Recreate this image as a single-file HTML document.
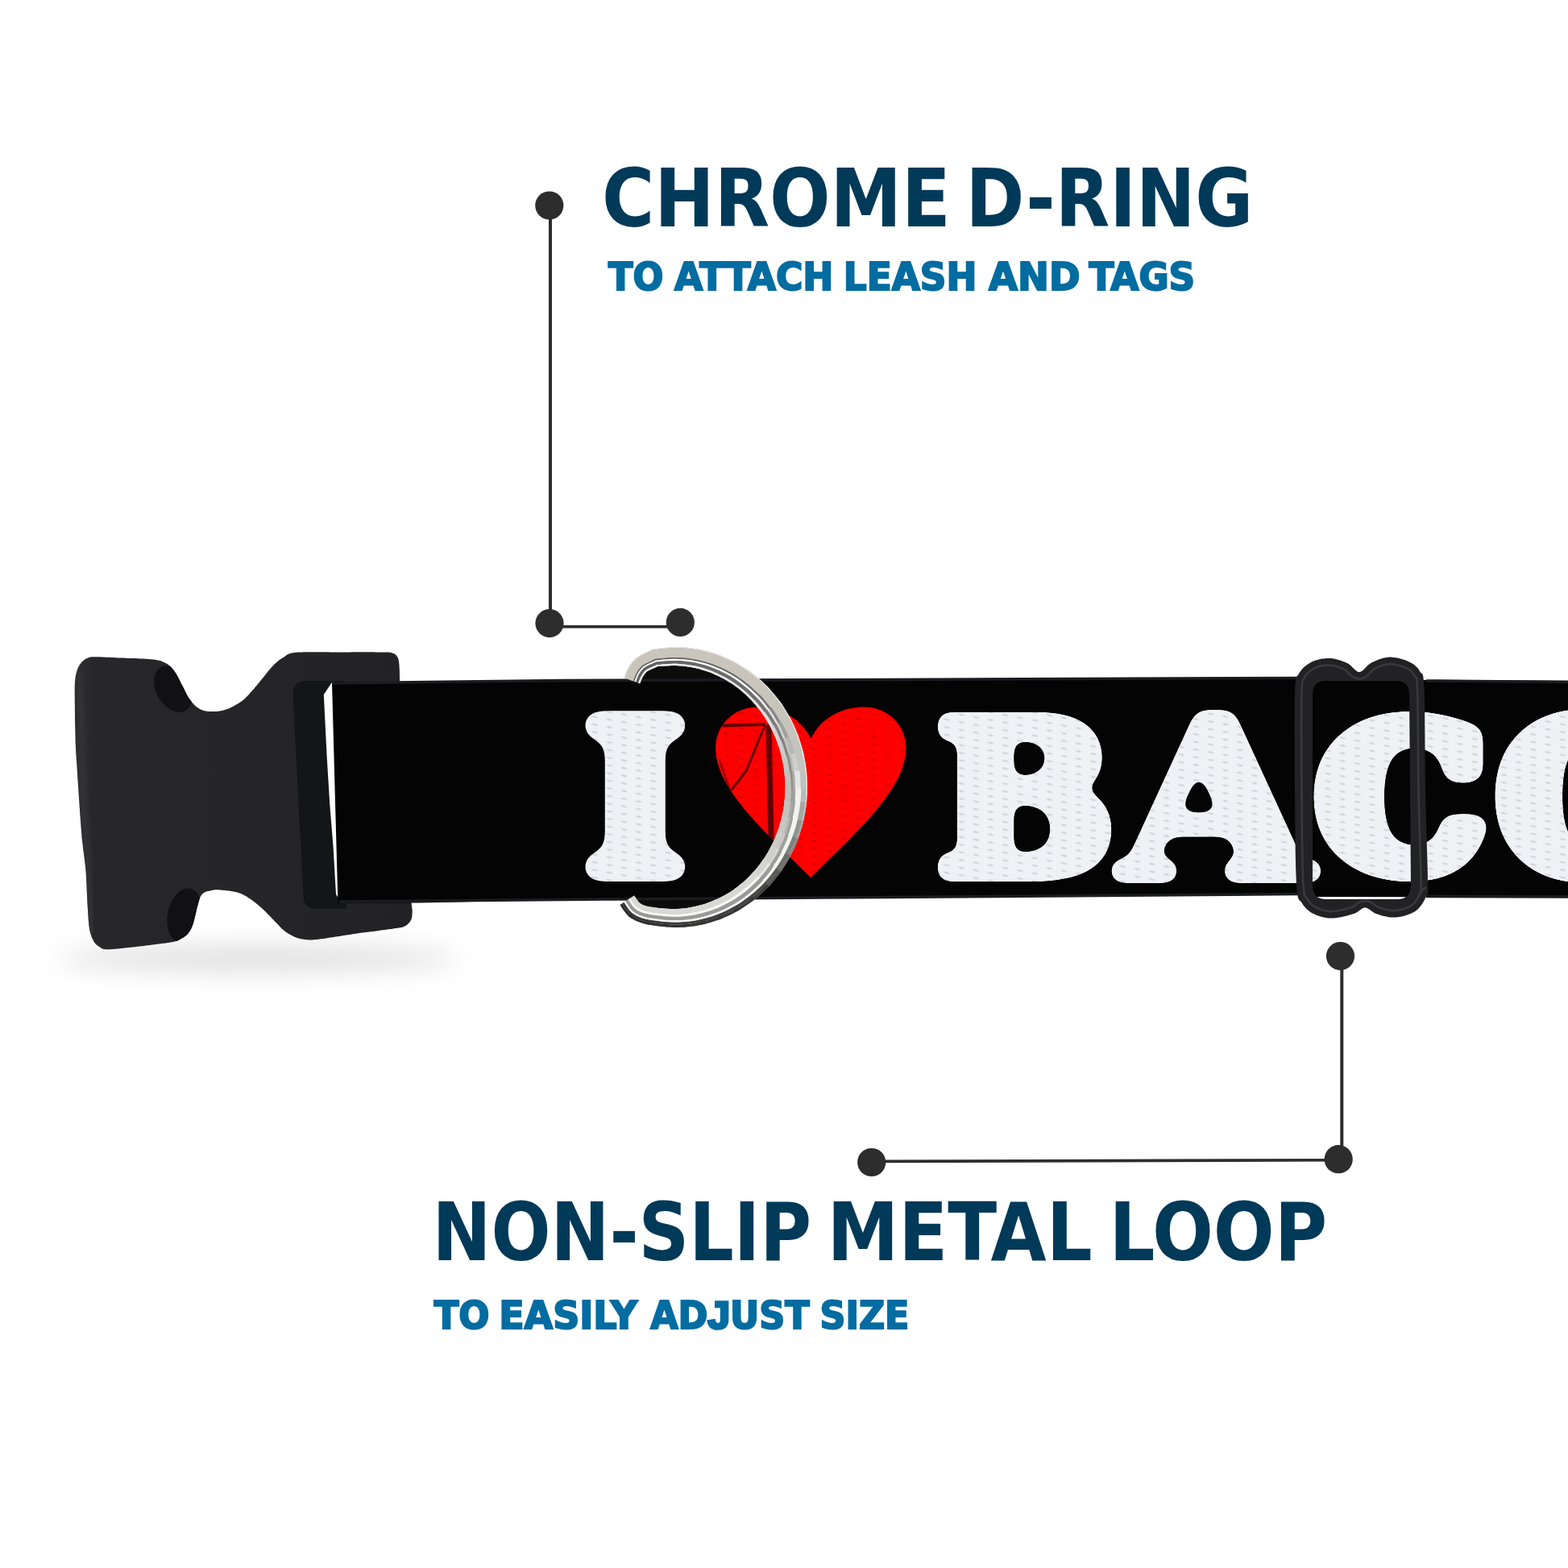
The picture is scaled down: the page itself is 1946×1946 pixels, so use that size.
<!DOCTYPE html>
<html lang="en">
<head>
<meta charset="utf-8">
<title>Dog Collar Features</title>
<style>
html,body{margin:0;padding:0;background:#fff;}
body{width:1946px;height:1946px;overflow:hidden;position:relative;}
svg{display:block;position:absolute;left:0;top:0;}
.h{font-family:"DejaVu Sans Condensed","Liberation Sans",sans-serif;font-weight:700;fill:#013958;}
.s{font-family:"DejaVu Sans Condensed","Liberation Sans",sans-serif;font-weight:700;fill:#036ca1;stroke:#036ca1;stroke-width:2;}
.j{font-family:"Liberation Sans",sans-serif;stroke-width:3.4;}
.cb{font-weight:700;font-size:200px;fill:#eff1f5;stroke:#eff1f5;stroke-linejoin:round;stroke-linecap:round;paint-order:stroke fill;}
.ls{font-family:"Liberation Serif",serif;}
.ds{font-family:"DejaVu Serif","Liberation Serif",serif;}
.dn{font-family:"DejaVu Sans","Liberation Sans",sans-serif;}
</style>
</head>
<body>
<svg xmlns="http://www.w3.org/2000/svg" width="1946" height="1946" viewBox="0 0 1946 1946">
<defs>
  <linearGradient id="gBuckle" x1="0" y1="0" x2="1" y2="0">
    <stop offset="0" stop-color="#2f2f31"/>
    <stop offset="0.06" stop-color="#272729"/>
    <stop offset="0.6" stop-color="#252527"/>
    <stop offset="1" stop-color="#222224"/>
  </linearGradient>
  <filter id="fShadow" x="-30%" y="-100%" width="160%" height="300%">
    <feGaussianBlur stdDeviation="16"/>
  </filter>
  <filter id="fSoft" x="-10%" y="-10%" width="120%" height="120%">
    <feGaussianBlur stdDeviation="3"/>
  </filter>
  <clipPath id="clipStrap"><polygon points="412,847 700,843.5 1100,842.5 1620,840.5 1620,843 1946,844.8 1946,1113.6 1620,1113 1620,1110.5 1100,1114 750,1115.5 520,1120.5 419.4,1121"/></clipPath>
  <radialGradient id="gDash" cx="0.5" cy="0.5" r="0.5">
    <stop offset="0" stop-color="#d6d6d6"/>
    <stop offset="0.55" stop-color="#e6e6e6"/>
    <stop offset="1" stop-color="#ffffff"/>
  </radialGradient>
  <pattern id="weave" width="18.2" height="9.5" patternUnits="userSpaceOnUse" patternTransform="translate(1184,890) skewY(10.3)">
    <rect width="18.2" height="9.5" fill="#ffffff"/>
    <ellipse cx="9.1" cy="4.75" rx="5" ry="1.7" fill="url(#gDash)"/>
  </pattern>
</defs>
<rect width="1946" height="1946" fill="#ffffff"/>
<g id="callout1" fill="#2d2d2d">
  <rect x="681" y="255" width="4" height="520"/>
  <rect x="682" y="776" width="162" height="3.6"/>
  <circle cx="681.8" cy="255" r="17.6"/>
  <circle cx="682" cy="773.6" r="17.6"/>
  <circle cx="844.3" cy="772.4" r="17.6"/>
</g>
<g id="callout2" fill="#2d2d2d">
  <rect x="1663.3" y="1187" width="4" height="252"/>
  <polygon points="1082,1439.6 1661,1437.9 1661,1441.5 1082,1443.2"/>
  <circle cx="1663.5" cy="1186.6" r="17.6"/>
  <circle cx="1661.2" cy="1438.7" r="17.6"/>
  <circle cx="1081.7" cy="1442.5" r="17.6"/>
</g>
<g id="labels">
<text class="h" y="280.9" font-size="99.4"><tspan x="747.1" textLength="432.7" lengthAdjust="spacingAndGlyphs">CHROME</tspan> <tspan x="1198.5" textLength="356.9" lengthAdjust="spacingAndGlyphs">D-RING</tspan></text>
<text class="s" y="359.7" font-size="48.6"><tspan x="755.0" textLength="68.3" lengthAdjust="spacingAndGlyphs">TO</tspan> <tspan x="837.0" textLength="197.4" lengthAdjust="spacingAndGlyphs">ATTACH</tspan> <tspan x="1046.8" textLength="165.6" lengthAdjust="spacingAndGlyphs">LEASH</tspan> <tspan x="1227.1" textLength="113.4" lengthAdjust="spacingAndGlyphs">AND</tspan> <tspan x="1351.4" textLength="131.8" lengthAdjust="spacingAndGlyphs">TAGS</tspan></text>
<text class="h" y="1564.4" font-size="99.4"><tspan x="536.6" textLength="470.5" lengthAdjust="spacingAndGlyphs">NON-SLIP</tspan> <tspan x="1026.4" textLength="329.3" lengthAdjust="spacingAndGlyphs">METAL</tspan> <tspan x="1376.6" textLength="270.6" lengthAdjust="spacingAndGlyphs">LOOP</tspan></text>
<text class="s" y="1648.9" font-size="48.6"><tspan x="538.7" textLength="68.9" lengthAdjust="spacingAndGlyphs">TO</tspan> <tspan x="619.2" textLength="171.8" lengthAdjust="spacingAndGlyphs">EASILY</tspan> <tspan x="807.2" textLength="197.3" lengthAdjust="spacingAndGlyphs">AD<tspan class="j">J</tspan>UST</tspan> <tspan x="1017.5" textLength="110.9" lengthAdjust="spacingAndGlyphs">SIZE</tspan></text>
</g>
<g id="collar">
<ellipse cx="320" cy="1190" rx="250" ry="16" fill="#000" opacity="0.13" filter="url(#fShadow)"/>
<g id="buckle">
<clipPath id="clipBuckle"><path d="M92.8,870.0 L92.8,867.2 L92.7,864.7 L92.7,862.4 L92.7,860.3 L92.7,858.4 L92.7,856.7 L92.7,855.1 L92.7,853.6 L92.7,852.2 L92.8,850.8 L92.8,849.4 L92.9,848.0 L93.0,846.6 L93.1,845.4 L93.2,844.2 L93.3,843.2 L93.4,842.2 L93.5,841.2 L93.6,840.3 L93.8,839.4 L93.9,838.6 L94.1,837.7 L94.3,836.9 L94.5,836.0 L94.7,835.1 L95.0,834.2 L95.2,833.4 L95.5,832.5 L95.7,831.7 L96.0,830.9 L96.3,830.1 L96.6,829.4 L96.9,828.6 L97.3,827.9 L97.6,827.2 L98.0,826.5 L98.4,825.8 L98.8,825.2 L99.2,824.6 L99.6,823.9 L100.1,823.4 L100.6,822.8 L101.0,822.2 L101.5,821.7 L102.0,821.2 L102.5,820.7 L103.0,820.2 L103.5,819.8 L104.0,819.4 L104.5,819.0 L105.0,818.6 L105.5,818.3 L106.1,817.9 L106.6,817.6 L107.1,817.4 L107.7,817.1 L108.2,816.8 L108.8,816.6 L109.4,816.4 L110.0,816.2 L110.5,816.0 L111.0,815.9 L111.3,815.7 L111.7,815.6 L112.0,815.5 L112.4,815.4 L112.9,815.3 L113.5,815.3 L114.3,815.2 L115.3,815.2 L116.5,815.2 L118.0,815.2 L119.8,815.2 L121.9,815.3 L124.1,815.3 L126.6,815.4 L129.2,815.5 L132.0,815.7 L134.9,815.8 L137.9,815.9 L140.9,816.1 L143.9,816.2 L147.0,816.4 L150.0,816.5 L153.1,816.6 L156.5,816.8 L160.0,816.9 L163.6,817.0 L167.3,817.1 L171.0,817.3 L174.6,817.4 L178.1,817.6 L181.4,817.8 L184.6,818.0 L187.5,818.2 L190.0,818.5 L192.2,818.8 L194.2,819.1 L196.0,819.4 L197.6,819.8 L199.0,820.1 L200.3,820.5 L201.4,820.9 L202.5,821.4 L203.6,821.9 L204.6,822.4 L205.7,823.0 L206.8,823.6 L207.9,824.3 L208.9,825.0 L209.9,825.7 L210.8,826.4 L211.6,827.2 L212.4,828.1 L213.2,828.9 L214.0,829.9 L214.8,830.8 L215.5,831.8 L216.3,832.9 L217.1,834.0 L217.9,835.2 L218.7,836.4 L219.5,837.8 L220.2,839.1 L221.0,840.5 L221.7,842.0 L222.5,843.5 L223.2,845.0 L224.0,846.4 L224.7,847.9 L225.4,849.4 L226.2,850.8 L226.9,852.2 L227.7,853.7 L228.4,855.1 L229.1,856.6 L229.8,858.1 L230.5,859.5 L231.3,861.0 L232.0,862.4 L232.8,863.8 L233.5,865.1 L234.4,866.4 L235.2,867.6 L236.1,868.8 L237.0,869.9 L237.9,871.1 L238.8,872.2 L239.8,873.2 L240.7,874.3 L241.7,875.2 L242.7,876.2 L243.7,877.1 L244.8,877.9 L245.8,878.6 L246.9,879.3 L248.0,879.9 L249.1,880.5 L250.2,881.0 L251.3,881.4 L252.4,881.8 L253.5,882.1 L254.7,882.4 L255.9,882.6 L257.1,882.8 L258.4,882.9 L259.7,883.0 L261.1,883.1 L262.5,883.1 L264.0,883.1 L265.6,883.1 L267.2,883.0 L268.8,882.9 L270.5,882.7 L272.2,882.5 L273.8,882.3 L275.5,881.9 L277.2,881.5 L278.9,881.1 L280.5,880.6 L282.1,880.0 L283.8,879.4 L285.5,878.6 L287.2,877.8 L288.9,877.0 L290.6,876.0 L292.3,875.1 L293.9,874.1 L295.5,873.2 L297.0,872.2 L298.5,871.2 L299.9,870.2 L301.2,869.2 L302.4,868.2 L303.6,867.2 L304.7,866.2 L305.8,865.1 L306.8,864.1 L307.8,863.0 L308.8,861.9 L309.8,860.8 L310.8,859.6 L311.8,858.5 L312.9,857.3 L314.0,856.1 L315.1,854.9 L316.2,853.6 L317.2,852.3 L318.3,851.0 L319.4,849.7 L320.5,848.3 L321.6,847.0 L322.7,845.7 L323.7,844.3 L324.8,843.0 L325.9,841.7 L327.0,840.4 L328.1,839.1 L329.1,837.7 L330.2,836.3 L331.3,835.0 L332.4,833.6 L333.4,832.3 L334.5,831.0 L335.6,829.7 L336.7,828.5 L337.7,827.3 L338.8,826.2 L339.9,825.1 L340.9,824.1 L342.0,823.2 L343.0,822.2 L344.0,821.3 L345.1,820.5 L346.1,819.6 L347.2,818.8 L348.3,818.1 L349.4,817.3 L350.5,816.6 L351.7,815.9 L352.8,815.2 L353.7,814.6 L354.5,813.9 L355.3,813.3 L356.1,812.8 L357.0,812.2 L358.0,811.7 L359.3,811.3 L360.7,810.8 L362.5,810.4 L364.7,810.1 L367.3,809.8 L370.4,809.6 L374.0,809.4 L377.9,809.3 L382.2,809.2 L386.8,809.2 L391.5,809.2 L396.4,809.2 L401.3,809.3 L406.1,809.3 L410.9,809.4 L415.6,809.4 L420.0,809.4 L424.4,809.4 L428.9,809.4 L433.5,809.4 L438.1,809.3 L442.7,809.3 L447.3,809.3 L451.7,809.3 L456.0,809.3 L460.0,809.3 L463.7,809.3 L467.0,809.4 L470.0,809.4 L472.6,809.4 L474.7,809.4 L476.6,809.4 L478.2,809.5 L479.5,809.5 L480.7,809.5 L481.7,809.5 L482.6,809.6 L483.4,809.7 L484.2,809.8 L485.1,810.0 L486.0,810.2 L486.9,810.4 L487.7,810.7 L488.5,811.0 L489.2,811.3 L489.8,811.6 L490.3,812.0 L490.9,812.4 L491.3,812.8 L491.8,813.3 L492.2,813.8 L492.6,814.4 L493.0,815.0 L493.4,815.6 L493.7,816.2 L494.0,816.8 L494.2,817.4 L494.4,818.0 L494.6,818.7 L494.8,819.5 L494.9,820.4 L495.1,821.5 L495.2,822.8 L495.4,824.3 L495.5,826.0 L495.6,827.8 L495.7,829.3 L495.8,830.9 L495.9,832.4 L495.9,834.2 L495.9,836.2 L496.0,838.6 L496.0,841.4 L496.1,844.9 L496.2,849.1 L496.3,854.1 L496.5,860.0 L496.7,867.0 L496.9,875.0 L497.1,884.0 L497.3,893.6 L497.5,903.9 L497.8,914.6 L498.0,925.6 L498.3,936.8 L498.7,948.0 L499.1,959.0 L499.5,969.7 L500.0,980.0 L500.6,990.3 L501.3,1001.1 L502.0,1012.2 L502.9,1023.5 L503.7,1034.8 L504.6,1046.0 L505.5,1056.8 L506.3,1067.1 L507.1,1076.7 L507.8,1085.5 L508.5,1093.3 L509.0,1100.0 L509.4,1105.4 L509.8,1109.8 L510.0,1113.3 L510.2,1115.9 L510.4,1117.9 L510.5,1119.4 L510.6,1120.4 L510.7,1121.2 L510.8,1121.9 L510.8,1122.6 L510.9,1123.4 L511.0,1124.5 L511.1,1125.6 L511.2,1126.5 L511.3,1127.2 L511.4,1127.7 L511.5,1128.1 L511.6,1128.5 L511.6,1128.7 L511.7,1129.0 L511.7,1129.2 L511.7,1129.6 L511.7,1130.1 L511.7,1130.7 L511.7,1131.5 L511.7,1132.3 L511.6,1133.2 L511.6,1134.1 L511.5,1135.1 L511.5,1136.0 L511.4,1137.0 L511.2,1138.0 L511.1,1139.0 L510.8,1139.9 L510.6,1140.8 L510.2,1141.6 L509.8,1142.4 L509.3,1143.1 L508.8,1143.9 L508.3,1144.6 L507.7,1145.3 L507.1,1146.0 L506.4,1146.6 L505.7,1147.3 L504.9,1147.9 L504.1,1148.4 L503.3,1148.9 L502.4,1149.4 L501.6,1149.8 L500.8,1150.2 L500.1,1150.4 L499.4,1150.7 L498.7,1150.9 L497.8,1151.0 L496.9,1151.2 L495.7,1151.4 L494.3,1151.6 L492.7,1151.9 L490.7,1152.1 L488.4,1152.5 L485.7,1152.9 L482.5,1153.3 L479.1,1153.8 L475.3,1154.3 L471.3,1154.8 L467.2,1155.4 L462.9,1155.9 L458.6,1156.5 L454.3,1157.0 L450.0,1157.6 L445.9,1158.1 L441.9,1158.7 L437.9,1159.3 L433.8,1159.9 L429.5,1160.5 L425.2,1161.2 L420.9,1161.9 L416.7,1162.6 L412.5,1163.2 L408.5,1163.8 L404.8,1164.4 L401.3,1164.9 L398.1,1165.3 L395.3,1165.7 L392.9,1166.0 L390.9,1166.2 L389.2,1166.3 L387.7,1166.4 L386.5,1166.5 L385.4,1166.5 L384.5,1166.5 L383.6,1166.4 L382.7,1166.4 L381.8,1166.3 L380.9,1166.2 L379.8,1166.1 L378.7,1166.0 L377.6,1165.9 L376.5,1165.8 L375.5,1165.6 L374.4,1165.5 L373.5,1165.3 L372.5,1165.0 L371.5,1164.8 L370.5,1164.5 L369.4,1164.2 L368.4,1163.8 L367.3,1163.4 L366.2,1162.9 L365.0,1162.4 L363.9,1161.9 L362.7,1161.3 L361.5,1160.7 L360.3,1160.1 L359.2,1159.4 L358.0,1158.7 L356.8,1158.0 L355.7,1157.2 L354.5,1156.4 L353.4,1155.6 L352.3,1154.7 L351.3,1153.8 L350.2,1152.9 L349.2,1151.9 L348.2,1150.9 L347.2,1149.9 L346.3,1148.8 L345.2,1147.7 L344.2,1146.6 L343.1,1145.5 L342.0,1144.4 L340.9,1143.2 L339.7,1142.0 L338.5,1140.7 L337.2,1139.5 L336.0,1138.1 L334.7,1136.8 L333.3,1135.4 L332.0,1134.0 L330.7,1132.7 L329.3,1131.3 L328.0,1130.1 L326.7,1128.8 L325.4,1127.6 L324.1,1126.4 L322.8,1125.3 L321.5,1124.2 L320.2,1123.1 L318.9,1122.0 L317.7,1120.9 L316.4,1119.9 L315.1,1118.9 L313.8,1117.9 L312.5,1117.0 L311.2,1116.1 L309.9,1115.2 L308.6,1114.4 L307.4,1113.6 L306.2,1112.8 L305.0,1112.1 L303.8,1111.4 L302.6,1110.8 L301.4,1110.2 L300.1,1109.6 L298.7,1109.0 L297.3,1108.5 L295.9,1108.0 L294.3,1107.5 L292.6,1107.1 L290.7,1106.7 L288.7,1106.3 L286.6,1105.9 L284.5,1105.6 L282.3,1105.4 L280.1,1105.1 L278.1,1104.9 L276.1,1104.7 L274.2,1104.5 L272.5,1104.4 L271.0,1104.3 L269.7,1104.2 L268.6,1104.2 L267.5,1104.2 L266.6,1104.3 L265.8,1104.4 L265.1,1104.5 L264.4,1104.7 L263.8,1104.8 L263.2,1105.0 L262.5,1105.1 L261.9,1105.3 L261.2,1105.4 L260.5,1105.5 L259.8,1105.7 L259.1,1105.8 L258.5,1105.9 L257.9,1106.0 L257.3,1106.2 L256.7,1106.3 L256.1,1106.5 L255.5,1106.7 L255.0,1106.9 L254.4,1107.2 L253.9,1107.5 L253.4,1107.8 L252.9,1108.1 L252.4,1108.5 L252.0,1108.8 L251.5,1109.2 L251.1,1109.6 L250.7,1110.0 L250.3,1110.5 L249.9,1111.1 L249.5,1111.7 L249.1,1112.3 L248.7,1113.1 L248.3,1113.9 L248.0,1114.8 L247.6,1115.8 L247.3,1116.7 L247.0,1117.8 L246.7,1118.9 L246.3,1120.1 L246.0,1121.3 L245.7,1122.5 L245.3,1123.8 L245.0,1125.2 L244.6,1126.6 L244.2,1128.1 L243.8,1129.7 L243.4,1131.5 L243.0,1133.3 L242.6,1135.2 L242.1,1137.1 L241.7,1139.0 L241.2,1140.8 L240.8,1142.6 L240.3,1144.3 L239.9,1145.9 L239.4,1147.3 L238.9,1148.6 L238.4,1149.8 L238.0,1150.9 L237.5,1152.0 L237.0,1153.0 L236.5,1153.9 L236.0,1154.8 L235.5,1155.6 L234.9,1156.4 L234.4,1157.2 L233.8,1158.0 L233.2,1158.7 L232.6,1159.4 L232.0,1160.1 L231.3,1160.7 L230.7,1161.2 L230.0,1161.8 L229.3,1162.3 L228.6,1162.7 L227.9,1163.2 L227.2,1163.6 L226.4,1164.0 L225.7,1164.5 L224.9,1164.9 L224.2,1165.3 L223.5,1165.7 L223.0,1166.1 L222.4,1166.4 L221.8,1166.8 L221.2,1167.1 L220.5,1167.4 L219.6,1167.7 L218.7,1168.0 L217.5,1168.3 L216.2,1168.7 L214.6,1169.0 L212.7,1169.3 L210.6,1169.7 L208.3,1170.1 L205.8,1170.4 L203.1,1170.8 L200.3,1171.1 L197.5,1171.5 L194.6,1171.8 L191.8,1172.2 L188.9,1172.5 L186.2,1172.9 L183.5,1173.2 L180.9,1173.5 L178.2,1173.9 L175.5,1174.2 L172.8,1174.5 L170.1,1174.8 L167.3,1175.2 L164.7,1175.5 L162.1,1175.8 L159.5,1176.1 L157.1,1176.3 L154.7,1176.6 L152.5,1176.8 L150.4,1177.0 L148.3,1177.2 L146.3,1177.4 L144.4,1177.6 L142.5,1177.8 L140.7,1178.0 L139.0,1178.1 L137.4,1178.2 L135.9,1178.3 L134.4,1178.3 L133.1,1178.3 L131.8,1178.3 L130.7,1178.2 L129.7,1178.1 L128.8,1177.9 L128.1,1177.8 L127.4,1177.5 L126.8,1177.3 L126.3,1177.0 L125.7,1176.7 L125.2,1176.4 L124.7,1176.0 L124.1,1175.6 L123.5,1175.2 L122.8,1174.8 L122.2,1174.3 L121.6,1173.9 L120.9,1173.4 L120.3,1172.9 L119.7,1172.4 L119.0,1171.8 L118.4,1171.2 L117.9,1170.5 L117.3,1169.7 L116.7,1168.9 L116.2,1168.0 L115.7,1167.0 L115.2,1166.1 L114.7,1165.1 L114.2,1164.0 L113.7,1162.9 L113.3,1161.7 L112.9,1160.5 L112.5,1159.1 L112.1,1157.7 L111.7,1156.1 L111.3,1154.4 L111.0,1152.5 L110.7,1150.5 L110.4,1148.3 L110.2,1146.1 L110.0,1143.7 L109.7,1141.2 L109.6,1138.6 L109.4,1135.9 L109.2,1133.1 L109.0,1130.3 L108.9,1127.4 L108.7,1124.4 L108.5,1121.4 L108.3,1118.3 L108.2,1115.1 L108.0,1111.8 L107.9,1108.5 L107.7,1105.0 L107.6,1101.5 L107.5,1098.0 L107.3,1094.4 L107.1,1090.8 L106.9,1087.2 L106.7,1083.6 L106.4,1080.0 L106.1,1076.5 L105.7,1073.2 L105.3,1069.9 L104.9,1066.6 L104.5,1063.4 L104.1,1060.0 L103.6,1056.6 L103.1,1053.0 L102.7,1049.1 L102.2,1045.0 L101.7,1040.6 L101.3,1035.8 L100.9,1030.5 L100.4,1024.6 L99.9,1018.3 L99.4,1011.6 L99.0,1004.7 L98.5,997.7 L98.0,990.7 L97.6,983.9 L97.1,977.2 L96.7,971.0 L96.3,965.2 L96.0,960.0 L95.7,955.4 L95.4,951.2 L95.2,947.5 L94.9,944.1 L94.7,940.9 L94.5,937.8 L94.3,934.9 L94.2,932.0 L94.0,929.0 L93.9,925.9 L93.7,922.6 L93.6,919.0 L93.5,915.1 L93.4,911.0 L93.3,906.7 L93.2,902.3 L93.1,897.8 L93.0,893.3 L93.0,888.9 L92.9,884.6 L92.9,880.5 L92.9,876.7 L92.8,873.2Z"/></clipPath>
<path d="M92.8,870.0 L92.8,867.2 L92.7,864.7 L92.7,862.4 L92.7,860.3 L92.7,858.4 L92.7,856.7 L92.7,855.1 L92.7,853.6 L92.7,852.2 L92.8,850.8 L92.8,849.4 L92.9,848.0 L93.0,846.6 L93.1,845.4 L93.2,844.2 L93.3,843.2 L93.4,842.2 L93.5,841.2 L93.6,840.3 L93.8,839.4 L93.9,838.6 L94.1,837.7 L94.3,836.9 L94.5,836.0 L94.7,835.1 L95.0,834.2 L95.2,833.4 L95.5,832.5 L95.7,831.7 L96.0,830.9 L96.3,830.1 L96.6,829.4 L96.9,828.6 L97.3,827.9 L97.6,827.2 L98.0,826.5 L98.4,825.8 L98.8,825.2 L99.2,824.6 L99.6,823.9 L100.1,823.4 L100.6,822.8 L101.0,822.2 L101.5,821.7 L102.0,821.2 L102.5,820.7 L103.0,820.2 L103.5,819.8 L104.0,819.4 L104.5,819.0 L105.0,818.6 L105.5,818.3 L106.1,817.9 L106.6,817.6 L107.1,817.4 L107.7,817.1 L108.2,816.8 L108.8,816.6 L109.4,816.4 L110.0,816.2 L110.5,816.0 L111.0,815.9 L111.3,815.7 L111.7,815.6 L112.0,815.5 L112.4,815.4 L112.9,815.3 L113.5,815.3 L114.3,815.2 L115.3,815.2 L116.5,815.2 L118.0,815.2 L119.8,815.2 L121.9,815.3 L124.1,815.3 L126.6,815.4 L129.2,815.5 L132.0,815.7 L134.9,815.8 L137.9,815.9 L140.9,816.1 L143.9,816.2 L147.0,816.4 L150.0,816.5 L153.1,816.6 L156.5,816.8 L160.0,816.9 L163.6,817.0 L167.3,817.1 L171.0,817.3 L174.6,817.4 L178.1,817.6 L181.4,817.8 L184.6,818.0 L187.5,818.2 L190.0,818.5 L192.2,818.8 L194.2,819.1 L196.0,819.4 L197.6,819.8 L199.0,820.1 L200.3,820.5 L201.4,820.9 L202.5,821.4 L203.6,821.9 L204.6,822.4 L205.7,823.0 L206.8,823.6 L207.9,824.3 L208.9,825.0 L209.9,825.7 L210.8,826.4 L211.6,827.2 L212.4,828.1 L213.2,828.9 L214.0,829.9 L214.8,830.8 L215.5,831.8 L216.3,832.9 L217.1,834.0 L217.9,835.2 L218.7,836.4 L219.5,837.8 L220.2,839.1 L221.0,840.5 L221.7,842.0 L222.5,843.5 L223.2,845.0 L224.0,846.4 L224.7,847.9 L225.4,849.4 L226.2,850.8 L226.9,852.2 L227.7,853.7 L228.4,855.1 L229.1,856.6 L229.8,858.1 L230.5,859.5 L231.3,861.0 L232.0,862.4 L232.8,863.8 L233.5,865.1 L234.4,866.4 L235.2,867.6 L236.1,868.8 L237.0,869.9 L237.9,871.1 L238.8,872.2 L239.8,873.2 L240.7,874.3 L241.7,875.2 L242.7,876.2 L243.7,877.1 L244.8,877.9 L245.8,878.6 L246.9,879.3 L248.0,879.9 L249.1,880.5 L250.2,881.0 L251.3,881.4 L252.4,881.8 L253.5,882.1 L254.7,882.4 L255.9,882.6 L257.1,882.8 L258.4,882.9 L259.7,883.0 L261.1,883.1 L262.5,883.1 L264.0,883.1 L265.6,883.1 L267.2,883.0 L268.8,882.9 L270.5,882.7 L272.2,882.5 L273.8,882.3 L275.5,881.9 L277.2,881.5 L278.9,881.1 L280.5,880.6 L282.1,880.0 L283.8,879.4 L285.5,878.6 L287.2,877.8 L288.9,877.0 L290.6,876.0 L292.3,875.1 L293.9,874.1 L295.5,873.2 L297.0,872.2 L298.5,871.2 L299.9,870.2 L301.2,869.2 L302.4,868.2 L303.6,867.2 L304.7,866.2 L305.8,865.1 L306.8,864.1 L307.8,863.0 L308.8,861.9 L309.8,860.8 L310.8,859.6 L311.8,858.5 L312.9,857.3 L314.0,856.1 L315.1,854.9 L316.2,853.6 L317.2,852.3 L318.3,851.0 L319.4,849.7 L320.5,848.3 L321.6,847.0 L322.7,845.7 L323.7,844.3 L324.8,843.0 L325.9,841.7 L327.0,840.4 L328.1,839.1 L329.1,837.7 L330.2,836.3 L331.3,835.0 L332.4,833.6 L333.4,832.3 L334.5,831.0 L335.6,829.7 L336.7,828.5 L337.7,827.3 L338.8,826.2 L339.9,825.1 L340.9,824.1 L342.0,823.2 L343.0,822.2 L344.0,821.3 L345.1,820.5 L346.1,819.6 L347.2,818.8 L348.3,818.1 L349.4,817.3 L350.5,816.6 L351.7,815.9 L352.8,815.2 L353.7,814.6 L354.5,813.9 L355.3,813.3 L356.1,812.8 L357.0,812.2 L358.0,811.7 L359.3,811.3 L360.7,810.8 L362.5,810.4 L364.7,810.1 L367.3,809.8 L370.4,809.6 L374.0,809.4 L377.9,809.3 L382.2,809.2 L386.8,809.2 L391.5,809.2 L396.4,809.2 L401.3,809.3 L406.1,809.3 L410.9,809.4 L415.6,809.4 L420.0,809.4 L424.4,809.4 L428.9,809.4 L433.5,809.4 L438.1,809.3 L442.7,809.3 L447.3,809.3 L451.7,809.3 L456.0,809.3 L460.0,809.3 L463.7,809.3 L467.0,809.4 L470.0,809.4 L472.6,809.4 L474.7,809.4 L476.6,809.4 L478.2,809.5 L479.5,809.5 L480.7,809.5 L481.7,809.5 L482.6,809.6 L483.4,809.7 L484.2,809.8 L485.1,810.0 L486.0,810.2 L486.9,810.4 L487.7,810.7 L488.5,811.0 L489.2,811.3 L489.8,811.6 L490.3,812.0 L490.9,812.4 L491.3,812.8 L491.8,813.3 L492.2,813.8 L492.6,814.4 L493.0,815.0 L493.4,815.6 L493.7,816.2 L494.0,816.8 L494.2,817.4 L494.4,818.0 L494.6,818.7 L494.8,819.5 L494.9,820.4 L495.1,821.5 L495.2,822.8 L495.4,824.3 L495.5,826.0 L495.6,827.8 L495.7,829.3 L495.8,830.9 L495.9,832.4 L495.9,834.2 L495.9,836.2 L496.0,838.6 L496.0,841.4 L496.1,844.9 L496.2,849.1 L496.3,854.1 L496.5,860.0 L496.7,867.0 L496.9,875.0 L497.1,884.0 L497.3,893.6 L497.5,903.9 L497.8,914.6 L498.0,925.6 L498.3,936.8 L498.7,948.0 L499.1,959.0 L499.5,969.7 L500.0,980.0 L500.6,990.3 L501.3,1001.1 L502.0,1012.2 L502.9,1023.5 L503.7,1034.8 L504.6,1046.0 L505.5,1056.8 L506.3,1067.1 L507.1,1076.7 L507.8,1085.5 L508.5,1093.3 L509.0,1100.0 L509.4,1105.4 L509.8,1109.8 L510.0,1113.3 L510.2,1115.9 L510.4,1117.9 L510.5,1119.4 L510.6,1120.4 L510.7,1121.2 L510.8,1121.9 L510.8,1122.6 L510.9,1123.4 L511.0,1124.5 L511.1,1125.6 L511.2,1126.5 L511.3,1127.2 L511.4,1127.7 L511.5,1128.1 L511.6,1128.5 L511.6,1128.7 L511.7,1129.0 L511.7,1129.2 L511.7,1129.6 L511.7,1130.1 L511.7,1130.7 L511.7,1131.5 L511.7,1132.3 L511.6,1133.2 L511.6,1134.1 L511.5,1135.1 L511.5,1136.0 L511.4,1137.0 L511.2,1138.0 L511.1,1139.0 L510.8,1139.9 L510.6,1140.8 L510.2,1141.6 L509.8,1142.4 L509.3,1143.1 L508.8,1143.9 L508.3,1144.6 L507.7,1145.3 L507.1,1146.0 L506.4,1146.6 L505.7,1147.3 L504.9,1147.9 L504.1,1148.4 L503.3,1148.9 L502.4,1149.4 L501.6,1149.8 L500.8,1150.2 L500.1,1150.4 L499.4,1150.7 L498.7,1150.9 L497.8,1151.0 L496.9,1151.2 L495.7,1151.4 L494.3,1151.6 L492.7,1151.9 L490.7,1152.1 L488.4,1152.5 L485.7,1152.9 L482.5,1153.3 L479.1,1153.8 L475.3,1154.3 L471.3,1154.8 L467.2,1155.4 L462.9,1155.9 L458.6,1156.5 L454.3,1157.0 L450.0,1157.6 L445.9,1158.1 L441.9,1158.7 L437.9,1159.3 L433.8,1159.9 L429.5,1160.5 L425.2,1161.2 L420.9,1161.9 L416.7,1162.6 L412.5,1163.2 L408.5,1163.8 L404.8,1164.4 L401.3,1164.9 L398.1,1165.3 L395.3,1165.7 L392.9,1166.0 L390.9,1166.2 L389.2,1166.3 L387.7,1166.4 L386.5,1166.5 L385.4,1166.5 L384.5,1166.5 L383.6,1166.4 L382.7,1166.4 L381.8,1166.3 L380.9,1166.2 L379.8,1166.1 L378.7,1166.0 L377.6,1165.9 L376.5,1165.8 L375.5,1165.6 L374.4,1165.5 L373.5,1165.3 L372.5,1165.0 L371.5,1164.8 L370.5,1164.5 L369.4,1164.2 L368.4,1163.8 L367.3,1163.4 L366.2,1162.9 L365.0,1162.4 L363.9,1161.9 L362.7,1161.3 L361.5,1160.7 L360.3,1160.1 L359.2,1159.4 L358.0,1158.7 L356.8,1158.0 L355.7,1157.2 L354.5,1156.4 L353.4,1155.6 L352.3,1154.7 L351.3,1153.8 L350.2,1152.9 L349.2,1151.9 L348.2,1150.9 L347.2,1149.9 L346.3,1148.8 L345.2,1147.7 L344.2,1146.6 L343.1,1145.5 L342.0,1144.4 L340.9,1143.2 L339.7,1142.0 L338.5,1140.7 L337.2,1139.5 L336.0,1138.1 L334.7,1136.8 L333.3,1135.4 L332.0,1134.0 L330.7,1132.7 L329.3,1131.3 L328.0,1130.1 L326.7,1128.8 L325.4,1127.6 L324.1,1126.4 L322.8,1125.3 L321.5,1124.2 L320.2,1123.1 L318.9,1122.0 L317.7,1120.9 L316.4,1119.9 L315.1,1118.9 L313.8,1117.9 L312.5,1117.0 L311.2,1116.1 L309.9,1115.2 L308.6,1114.4 L307.4,1113.6 L306.2,1112.8 L305.0,1112.1 L303.8,1111.4 L302.6,1110.8 L301.4,1110.2 L300.1,1109.6 L298.7,1109.0 L297.3,1108.5 L295.9,1108.0 L294.3,1107.5 L292.6,1107.1 L290.7,1106.7 L288.7,1106.3 L286.6,1105.9 L284.5,1105.6 L282.3,1105.4 L280.1,1105.1 L278.1,1104.9 L276.1,1104.7 L274.2,1104.5 L272.5,1104.4 L271.0,1104.3 L269.7,1104.2 L268.6,1104.2 L267.5,1104.2 L266.6,1104.3 L265.8,1104.4 L265.1,1104.5 L264.4,1104.7 L263.8,1104.8 L263.2,1105.0 L262.5,1105.1 L261.9,1105.3 L261.2,1105.4 L260.5,1105.5 L259.8,1105.7 L259.1,1105.8 L258.5,1105.9 L257.9,1106.0 L257.3,1106.2 L256.7,1106.3 L256.1,1106.5 L255.5,1106.7 L255.0,1106.9 L254.4,1107.2 L253.9,1107.5 L253.4,1107.8 L252.9,1108.1 L252.4,1108.5 L252.0,1108.8 L251.5,1109.2 L251.1,1109.6 L250.7,1110.0 L250.3,1110.5 L249.9,1111.1 L249.5,1111.7 L249.1,1112.3 L248.7,1113.1 L248.3,1113.9 L248.0,1114.8 L247.6,1115.8 L247.3,1116.7 L247.0,1117.8 L246.7,1118.9 L246.3,1120.1 L246.0,1121.3 L245.7,1122.5 L245.3,1123.8 L245.0,1125.2 L244.6,1126.6 L244.2,1128.1 L243.8,1129.7 L243.4,1131.5 L243.0,1133.3 L242.6,1135.2 L242.1,1137.1 L241.7,1139.0 L241.2,1140.8 L240.8,1142.6 L240.3,1144.3 L239.9,1145.9 L239.4,1147.3 L238.9,1148.6 L238.4,1149.8 L238.0,1150.9 L237.5,1152.0 L237.0,1153.0 L236.5,1153.9 L236.0,1154.8 L235.5,1155.6 L234.9,1156.4 L234.4,1157.2 L233.8,1158.0 L233.2,1158.7 L232.6,1159.4 L232.0,1160.1 L231.3,1160.7 L230.7,1161.2 L230.0,1161.8 L229.3,1162.3 L228.6,1162.7 L227.9,1163.2 L227.2,1163.6 L226.4,1164.0 L225.7,1164.5 L224.9,1164.9 L224.2,1165.3 L223.5,1165.7 L223.0,1166.1 L222.4,1166.4 L221.8,1166.8 L221.2,1167.1 L220.5,1167.4 L219.6,1167.7 L218.7,1168.0 L217.5,1168.3 L216.2,1168.7 L214.6,1169.0 L212.7,1169.3 L210.6,1169.7 L208.3,1170.1 L205.8,1170.4 L203.1,1170.8 L200.3,1171.1 L197.5,1171.5 L194.6,1171.8 L191.8,1172.2 L188.9,1172.5 L186.2,1172.9 L183.5,1173.2 L180.9,1173.5 L178.2,1173.9 L175.5,1174.2 L172.8,1174.5 L170.1,1174.8 L167.3,1175.2 L164.7,1175.5 L162.1,1175.8 L159.5,1176.1 L157.1,1176.3 L154.7,1176.6 L152.5,1176.8 L150.4,1177.0 L148.3,1177.2 L146.3,1177.4 L144.4,1177.6 L142.5,1177.8 L140.7,1178.0 L139.0,1178.1 L137.4,1178.2 L135.9,1178.3 L134.4,1178.3 L133.1,1178.3 L131.8,1178.3 L130.7,1178.2 L129.7,1178.1 L128.8,1177.9 L128.1,1177.8 L127.4,1177.5 L126.8,1177.3 L126.3,1177.0 L125.7,1176.7 L125.2,1176.4 L124.7,1176.0 L124.1,1175.6 L123.5,1175.2 L122.8,1174.8 L122.2,1174.3 L121.6,1173.9 L120.9,1173.4 L120.3,1172.9 L119.7,1172.4 L119.0,1171.8 L118.4,1171.2 L117.9,1170.5 L117.3,1169.7 L116.7,1168.9 L116.2,1168.0 L115.7,1167.0 L115.2,1166.1 L114.7,1165.1 L114.2,1164.0 L113.7,1162.9 L113.3,1161.7 L112.9,1160.5 L112.5,1159.1 L112.1,1157.7 L111.7,1156.1 L111.3,1154.4 L111.0,1152.5 L110.7,1150.5 L110.4,1148.3 L110.2,1146.1 L110.0,1143.7 L109.7,1141.2 L109.6,1138.6 L109.4,1135.9 L109.2,1133.1 L109.0,1130.3 L108.9,1127.4 L108.7,1124.4 L108.5,1121.4 L108.3,1118.3 L108.2,1115.1 L108.0,1111.8 L107.9,1108.5 L107.7,1105.0 L107.6,1101.5 L107.5,1098.0 L107.3,1094.4 L107.1,1090.8 L106.9,1087.2 L106.7,1083.6 L106.4,1080.0 L106.1,1076.5 L105.7,1073.2 L105.3,1069.9 L104.9,1066.6 L104.5,1063.4 L104.1,1060.0 L103.6,1056.6 L103.1,1053.0 L102.7,1049.1 L102.2,1045.0 L101.7,1040.6 L101.3,1035.8 L100.9,1030.5 L100.4,1024.6 L99.9,1018.3 L99.4,1011.6 L99.0,1004.7 L98.5,997.7 L98.0,990.7 L97.6,983.9 L97.1,977.2 L96.7,971.0 L96.3,965.2 L96.0,960.0 L95.7,955.4 L95.4,951.2 L95.2,947.5 L94.9,944.1 L94.7,940.9 L94.5,937.8 L94.3,934.9 L94.2,932.0 L94.0,929.0 L93.9,925.9 L93.7,922.6 L93.6,919.0 L93.5,915.1 L93.4,911.0 L93.3,906.7 L93.2,902.3 L93.1,897.8 L93.0,893.3 L93.0,888.9 L92.9,884.6 L92.9,880.5 L92.9,876.7 L92.8,873.2Z" fill="url(#gBuckle)"/>
<g clip-path="url(#clipBuckle)">
<path d="M363.5,862 Q363.5,845 380,845 L430,845 L430,1128 L392,1128 Q377,1128 376.5,1112 Z" fill="#141517"/>
<ellipse cx="215" cy="855" rx="21" ry="31" transform="rotate(-30 215 855)" fill="#111113"/>
<ellipse cx="229" cy="1136" rx="21" ry="34" transform="rotate(12 229 1136)" fill="#111113"/>
<path d="M98,830 L104,1000 L114,1160" stroke="#353537" stroke-width="6" fill="none" filter="url(#fSoft)"/>
</g>
<polygon points="401.8,862 412.5,846 423,1119 417,1110 413.5,1050 409.4,1000 405.7,940" fill="#ffffff"/>
</g>
<path d="M794.2,848.3 L796.1,843.3 L797.7,839.9 L799.4,837.2 L801.4,834.7 L803.0,833.2 L805.2,832.0 L808.9,830.3 L814.2,828.0 L815.9,826.9 L818.0,827.1 L823.4,826.6 L828.7,826.2 L833.7,825.9 L838.4,825.9 L843.2,826.2 L848.1,826.6 L853.0,827.2 L857.9,828.0 L862.7,829.0 L867.5,830.1 L872.2,831.5 L876.9,833.0 L881.5,834.6 L886.0,836.5 L890.5,838.5 L894.9,840.7 L899.2,843.0 L903.4,845.5 L907.6,848.1 L911.6,850.8 L915.5,853.8 L919.4,856.8 L923.1,860.0 L926.7,863.3 L930.2,866.7 L933.6,870.3 L936.9,873.9 L940.0,877.7 L943.1,881.6 L945.9,885.5 L948.7,889.6 L951.3,893.7 L953.8,898.0 L956.2,902.3 L958.4,906.7 L960.5,911.2 L962.5,915.7 L964.3,920.3 L965.9,924.9 L967.4,929.6 L968.8,934.3 L970.0,939.1 L971.1,944.0 L972.0,948.8 L972.8,953.7 L973.4,958.6 L973.9,963.5 L974.3,968.4 L974.5,973.4 L974.5,978.3 L974.4,983.2 L974.1,988.2 L973.7,993.1 L973.1,998.0 L972.4,1002.9 L971.6,1007.7 L970.6,1012.6 L969.4,1017.4 L968.1,1022.1 L966.7,1026.9 L965.1,1031.5 L963.4,1036.1 L961.5,1040.7 L959.5,1045.2 L957.3,1049.6 L955.0,1054.0 L952.6,1058.2 L950.0,1062.4 L947.3,1066.6 L944.5,1070.6 L941.5,1074.5 L938.5,1078.3 L935.2,1082.0 L931.9,1085.6 L928.5,1089.1 L924.9,1092.5 L921.2,1095.7 L917.4,1098.8 L913.5,1101.8 L909.5,1104.7 L905.5,1107.4 L901.3,1109.9 L897.0,1112.3 L892.6,1114.6 L888.2,1116.6 L883.7,1118.6 L879.1,1120.3 L874.5,1121.9 L869.7,1123.3 L865.0,1124.6 L860.2,1125.6 L855.4,1126.5 L850.5,1127.2 L845.6,1127.7 L840.7,1128.1 L835.9,1128.2 L831.0,1128.1 L826.0,1127.8 L820.7,1127.3 L815.3,1126.7 L810.2,1126.1 L805.7,1125.4 L801.9,1124.5 L798.7,1123.4 L796.1,1122.2 L794.2,1121.0 L792.5,1119.3 L790.1,1116.0 L787.1,1111.5Z" fill="#0c0c0d"/>
<polygon id="strap" points="412,847 700,843.5 1100,842.5 1620,840.5 1620,843 1946,844.8 1946,1113.6 1620,1113 1620,1110.5 1100,1114 750,1115.5 520,1120.5 419.4,1121" fill="#040404"/>
<path d="M412,848 L700,844.5 L1100,843.5 L1612,841.5" stroke="#1b1c1f" stroke-width="3.5" fill="none"/>
<path d="M1770,845 L1946,846.5" stroke="#1b1c1f" stroke-width="3.5" fill="none"/>
<path d="M421,1119 L750,1116 L1100,1113.5 L1612,1109.5" stroke="#1b1c1f" stroke-width="3.5" fill="none"/>
<path d="M1770,1112.5 L1946,1113" stroke="#1b1c1f" stroke-width="3.5" fill="none"/>
<g id="print">
<defs><filter id="goo6" x="-30%" y="-30%" width="160%" height="160%" color-interpolation-filters="sRGB"><feGaussianBlur in="SourceGraphic" stdDeviation="6"/><feColorMatrix type="matrix" values="1 0 0 0 0  0 1 0 0 0  0 0 1 0 0  0 0 0 30 -14.50"/></filter><filter id="goo8" x="-30%" y="-30%" width="160%" height="160%" color-interpolation-filters="sRGB"><feGaussianBlur in="SourceGraphic" stdDeviation="8"/><feColorMatrix type="matrix" values="1 0 0 0 0  0 1 0 0 0  0 0 1 0 0  0 0 0 30 -14.50"/></filter></defs>
<text class="cb ds" stroke-width="16" filter="url(#goo8)" transform="translate(722.8,1083.5) scale(1.398,1.309)">I</text>
<clipPath id="clipHeart"><path d="M1006.3,916.5 C995,893 970,877.5 940,877.5 C911,877.5 888.2,900 888.2,928 C888.2,952 900,975 925.9,1006.7 C950,1035 985,1068 1006.3,1089.2 C1027.6,1068 1062.6,1035 1086.7,1006.7 C1112.6,975 1124.4,952 1124.4,928 C1124.4,900 1101.6,877.5 1072.6,877.5 C1042.6,877.5 1017.6,893 1006.3,916.5Z"/></clipPath>
<path id="heart" fill="#fe0000" d="M1006.3,916.5 C995,893 970,877.5 940,877.5 C911,877.5 888.2,900 888.2,928 C888.2,952 900,975 925.9,1006.7 C950,1035 985,1068 1006.3,1089.2 C1027.6,1068 1062.6,1035 1086.7,1006.7 C1112.6,975 1124.4,952 1124.4,928 C1124.4,900 1101.6,877.5 1072.6,877.5 C1042.6,877.5 1017.6,893 1006.3,916.5Z"/>
<g clip-path="url(#clipHeart)" fill="none" stroke="#4a0000" stroke-linecap="round" opacity="0.85">
<path d="M954,902 L957,1042" stroke-width="7"/>
<path d="M898,900.5 L948,899" stroke-width="4"/>
<path d="M949,901 L926,957 L908,980" stroke-width="3"/>
<path d="M893,944 L905,978" stroke-width="3" opacity="0.6"/>
</g>
<text class="cb ds" stroke-width="16" filter="url(#goo6)" transform="translate(1161.6,1083.8) scale(1.314,1.301)">B</text>
<text class="cb ds" stroke-width="10" filter="url(#goo6)" transform="translate(1388.7,1089.1) scale(1.548,1.380)">A</text>
<text class="cb ds" stroke-width="26" filter="url(#goo6)" transform="translate(1636.2,1075.5) scale(1.293,1.194)">C</text>
<text class="cb ds" stroke-width="26" filter="url(#goo6)" transform="translate(1861.1,1076.7) scale(1.235,1.218)">O</text>
</g>
<rect x="700" y="870" width="1246" height="235" fill="url(#weave)" style="mix-blend-mode:multiply"/>
<g id="dring">
<path d="M774.5,841.0 L776.5,835.6 L778.8,830.2 L781.8,825.3 L785.3,820.6 L789.4,816.5 L794.2,813.3 L799.3,810.7 L804.6,808.2 L809.4,805.7 L815.1,805.0 L820.9,804.3 L826.7,803.7 L832.4,803.2 L838.2,803.0 L844.0,803.1 L849.8,803.4 L855.6,804.0 L861.4,804.7 L867.1,805.7 L872.8,806.9 L878.4,808.3 L884.0,809.9 L889.5,811.7 L894.9,813.7 L900.3,815.9 L905.6,818.3 L910.8,820.9 L915.8,823.7 L920.8,826.7 L925.7,829.8 L930.5,833.1 L935.1,836.6 L939.6,840.3 L944.0,844.1 L948.2,848.0 L952.3,852.1 L956.3,856.4 L960.1,860.7 L963.8,865.2 L967.3,869.8 L970.7,874.6 L973.9,879.4 L976.9,884.4 L979.8,889.4 L982.5,894.5 L985.0,899.8 L987.4,905.1 L989.6,910.4 L991.6,915.9 L993.4,921.4 L995.1,926.9 L996.6,932.5 L997.9,938.2 L999.0,943.9 L1000.0,949.6 L1000.7,955.4 L1001.3,961.1 L1001.7,966.9 L1001.9,972.7 L1002.0,978.5 L1001.9,984.3 L1001.5,990.1 L1001.0,995.9 L1000.3,1001.6 L999.5,1007.4 L998.4,1013.1 L997.2,1018.8 L995.8,1024.4 L994.2,1030.0 L992.5,1035.5 L990.5,1041.0 L988.4,1046.4 L986.2,1051.7 L983.7,1057.0 L981.1,1062.1 L978.3,1067.2 L975.3,1072.2 L972.2,1077.1 L968.9,1081.9 L965.5,1086.6 L961.9,1091.1 L958.2,1095.6 L954.3,1099.9 L950.2,1104.0 L946.1,1108.1 L941.7,1111.9 L937.3,1115.6 L932.7,1119.2 L928.0,1122.6 L923.2,1125.8 L918.2,1128.9 L913.2,1131.8 L908.1,1134.5 L902.8,1137.0 L897.5,1139.3 L892.1,1141.4 L886.6,1143.3 L881.1,1145.0 L875.5,1146.5 L869.8,1147.8 L864.1,1148.9 L858.4,1149.7 L852.6,1150.3 L846.8,1150.8 L841.0,1151.0 L835.2,1150.9 L829.4,1150.6 L823.7,1150.1 L817.9,1149.4 L812.1,1148.7 L806.4,1147.8 L800.7,1146.7 L795.1,1145.1 L789.7,1143.0 L784.6,1140.3 L779.9,1136.9 L776.0,1132.6 L772.7,1127.9 L769.5,1123.0 L787.1,1111.5 L790.1,1116.0 L792.5,1119.3 L794.2,1121.0 L796.1,1122.2 L798.7,1123.4 L801.9,1124.5 L805.7,1125.4 L810.2,1126.1 L815.3,1126.7 L820.7,1127.3 L826.0,1127.8 L831.0,1128.1 L835.9,1128.2 L840.7,1128.1 L845.6,1127.7 L850.5,1127.2 L855.4,1126.5 L860.2,1125.6 L865.0,1124.6 L869.7,1123.3 L874.5,1121.9 L879.1,1120.3 L883.7,1118.6 L888.2,1116.6 L892.6,1114.6 L897.0,1112.3 L901.3,1109.9 L905.5,1107.4 L909.5,1104.7 L913.5,1101.8 L917.4,1098.8 L921.2,1095.7 L924.9,1092.5 L928.5,1089.1 L931.9,1085.6 L935.2,1082.0 L938.5,1078.3 L941.5,1074.5 L944.5,1070.6 L947.3,1066.6 L950.0,1062.4 L952.6,1058.2 L955.0,1054.0 L957.3,1049.6 L959.5,1045.2 L961.5,1040.7 L963.4,1036.1 L965.1,1031.5 L966.7,1026.9 L968.1,1022.1 L969.4,1017.4 L970.6,1012.6 L971.6,1007.7 L972.4,1002.9 L973.1,998.0 L973.7,993.1 L974.1,988.2 L974.4,983.2 L974.5,978.3 L974.5,973.4 L974.3,968.4 L973.9,963.5 L973.4,958.6 L972.8,953.7 L972.0,948.8 L971.1,944.0 L970.0,939.1 L968.8,934.3 L967.4,929.6 L965.9,924.9 L964.3,920.3 L962.5,915.7 L960.5,911.2 L958.4,906.7 L956.2,902.3 L953.8,898.0 L951.3,893.7 L948.7,889.6 L945.9,885.5 L943.1,881.6 L940.0,877.7 L936.9,873.9 L933.6,870.3 L930.2,866.7 L926.7,863.3 L923.1,860.0 L919.4,856.8 L915.5,853.8 L911.6,850.8 L907.6,848.1 L903.4,845.5 L899.2,843.0 L894.9,840.7 L890.5,838.5 L886.0,836.5 L881.5,834.6 L876.9,833.0 L872.2,831.5 L867.5,830.1 L862.7,829.0 L857.9,828.0 L853.0,827.2 L848.1,826.6 L843.2,826.2 L838.4,825.9 L833.7,825.9 L828.7,826.2 L823.4,826.6 L818.0,827.1 L815.9,826.9 L814.2,828.0 L808.9,830.3 L805.2,832.0 L803.0,833.2 L801.4,834.7 L799.4,837.2 L797.7,839.9 L796.1,843.3 L794.2,848.3Z" fill="#b8b8b4"/>
<path d="M774.5,841.0 L776.5,835.6 L778.8,830.2 L781.8,825.3 L785.3,820.6 L789.4,816.5 L790.0,817.4 L786.1,821.3 L782.7,825.8 L779.7,830.7 L777.5,835.9 L775.5,841.4Z" fill="#e8e6e0"/>
<path d="M775.5,841.4 L777.5,835.9 L779.7,830.7 L782.7,825.8 L786.1,821.3 L790.0,817.4 L797.3,826.2 L794.6,828.7 L792.0,832.1 L789.7,835.8 L787.8,840.1 L785.9,845.2Z" fill="#c9c5bc"/>
<path d="M785.9,845.2 L787.8,840.1 L789.7,835.8 L792.0,832.1 L794.6,828.7 L797.3,826.2 L798.2,827.3 L795.8,829.7 L793.2,833.0 L791.0,836.5 L789.2,840.6 L787.3,845.7Z" fill="#565656"/>
<path d="M787.3,845.7 L789.2,840.6 L791.0,836.5 L793.2,833.0 L795.8,829.7 L798.2,827.3 L799.5,828.9 L797.2,831.0 L794.8,834.1 L792.7,837.3 L791.0,841.3 L789.1,846.4Z" fill="#f8f8f8"/>
<path d="M789.1,846.4 L791.0,841.3 L792.7,837.3 L794.8,834.1 L797.2,831.0 L799.5,828.9 L801.7,831.5 L799.8,833.3 L797.7,836.0 L795.8,838.9 L794.1,842.6 L792.2,847.5Z" fill="#5f5f5f"/>
<path d="M792.2,847.5 L794.1,842.6 L795.8,838.9 L797.7,836.0 L799.8,833.3 L801.7,831.5 L803.0,833.2 L801.4,834.7 L799.4,837.2 L797.7,839.9 L796.1,843.3 L794.2,848.3Z" fill="#f0f0f0"/>
<path d="M785.3,820.6 L789.4,816.5 L794.2,813.3 L799.3,810.7 L804.6,808.2 L809.4,805.7 L809.7,806.8 L805.1,809.2 L799.8,811.6 L794.7,814.2 L790.0,817.4 L786.1,821.3Z" fill="#e8e6e0"/>
<path d="M786.1,821.3 L790.0,817.4 L794.7,814.2 L799.8,811.6 L805.1,809.2 L809.7,806.8 L813.1,817.9 L810.1,819.6 L804.9,821.9 L800.5,824.1 L797.2,826.1 L794.6,828.7Z" fill="#c9c5bc"/>
<path d="M794.6,828.7 L797.2,826.1 L800.5,824.1 L804.9,821.9 L810.1,819.6 L813.1,817.9 L813.6,819.4 L810.8,821.0 L805.5,823.3 L801.3,825.4 L798.2,827.3 L795.7,829.7Z" fill="#585858"/>
<path d="M795.7,829.7 L798.2,827.3 L801.3,825.4 L805.5,823.3 L810.8,821.0 L813.6,819.4 L814.2,821.4 L811.7,822.8 L806.4,825.1 L802.3,827.1 L799.5,828.8 L797.2,831.0Z" fill="#f8f8f8"/>
<path d="M797.2,831.0 L799.5,828.8 L802.3,827.1 L806.4,825.1 L811.7,822.8 L814.2,821.4 L815.2,824.8 L813.3,826.0 L808.0,828.3 L804.1,830.1 L801.7,831.5 L799.8,833.3Z" fill="#616161"/>
<path d="M799.8,833.3 L801.7,831.5 L804.1,830.1 L808.0,828.3 L813.3,826.0 L815.2,824.8 L815.9,826.9 L814.2,828.0 L808.9,830.3 L805.2,832.0 L803.0,833.2 L801.4,834.7Z" fill="#efefef"/>
<path d="M804.6,808.2 L809.4,805.7 L815.1,805.0 L820.9,804.3 L826.7,803.7 L832.4,803.2 L832.5,804.3 L826.8,804.8 L821.0,805.4 L815.3,806.1 L809.7,806.8 L805.1,809.2Z" fill="#e8e6e0"/>
<path d="M805.1,809.2 L809.7,806.8 L815.3,806.1 L821.0,805.4 L826.8,804.8 L832.5,804.3 L833.2,816.2 L827.8,816.5 L822.3,817.0 L816.8,817.6 L813.1,817.8 L810.1,819.5Z" fill="#c9c5bc"/>
<path d="M810.1,819.5 L813.1,817.8 L816.8,817.6 L822.3,817.0 L827.8,816.5 L833.2,816.2 L833.3,817.8 L828.0,818.2 L822.5,818.6 L817.0,819.2 L813.6,819.4 L810.8,820.9Z" fill="#5a5a5a"/>
<path d="M810.8,820.9 L813.6,819.4 L817.0,819.2 L822.5,818.6 L828.0,818.2 L833.3,817.8 L833.4,820.0 L828.2,820.2 L822.8,820.7 L817.2,821.3 L814.2,821.4 L811.7,822.8Z" fill="#f8f8f8"/>
<path d="M811.7,822.8 L814.2,821.4 L817.2,821.3 L822.8,820.7 L828.2,820.2 L833.4,820.0 L833.6,823.7 L828.5,823.9 L823.2,824.3 L817.7,824.9 L815.2,824.8 L813.3,826.0Z" fill="#636363"/>
<path d="M813.3,826.0 L815.2,824.8 L817.7,824.9 L823.2,824.3 L828.5,823.9 L833.6,823.7 L833.7,825.9 L828.7,826.2 L823.4,826.6 L818.0,827.1 L815.9,826.9 L814.2,828.0Z" fill="#eeeeee"/>
<path d="M826.7,803.7 L832.4,803.2 L838.2,803.0 L844.0,803.1 L849.8,803.4 L855.6,804.0 L855.5,805.1 L849.8,804.6 L844.0,804.3 L838.3,804.1 L832.5,804.3 L826.8,804.8Z" fill="#e8e6e0"/>
<path d="M826.8,804.8 L832.5,804.3 L838.3,804.1 L844.0,804.3 L849.8,804.6 L855.5,805.1 L854.1,817.2 L848.9,816.6 L843.6,816.2 L838.4,816.0 L833.2,816.1 L827.8,816.4Z" fill="#c9c5bc"/>
<path d="M827.8,816.4 L833.2,816.1 L838.4,816.0 L843.6,816.2 L848.9,816.6 L854.1,817.2 L853.9,818.9 L848.7,818.3 L843.5,817.9 L838.4,817.7 L833.3,817.8 L828.0,818.1Z" fill="#5c5c5c"/>
<path d="M828.0,818.1 L833.3,817.8 L838.4,817.7 L843.5,817.9 L848.7,818.3 L853.9,818.9 L853.7,821.1 L848.6,820.5 L843.4,820.1 L838.4,819.9 L833.4,819.9 L828.2,820.2Z" fill="#f8f8f8"/>
<path d="M828.2,820.2 L833.4,819.9 L838.4,819.9 L843.4,820.1 L848.6,820.5 L853.7,821.1 L853.3,824.9 L848.3,824.3 L843.3,823.9 L838.4,823.6 L833.6,823.7 L828.5,823.9Z" fill="#656565"/>
<path d="M828.5,823.9 L833.6,823.7 L838.4,823.6 L843.3,823.9 L848.3,824.3 L853.3,824.9 L853.0,827.2 L848.1,826.6 L843.2,826.2 L838.4,825.9 L833.7,825.9 L828.7,826.2Z" fill="#ededed"/>
<path d="M849.8,803.4 L855.6,804.0 L861.4,804.7 L867.1,805.7 L872.8,806.9 L878.4,808.3 L878.1,809.4 L872.5,808.0 L866.9,806.8 L861.2,805.9 L855.5,805.1 L849.8,804.6Z" fill="#e8e6e0"/>
<path d="M849.8,804.6 L855.5,805.1 L861.2,805.9 L866.9,806.8 L872.5,808.0 L878.1,809.4 L874.9,821.4 L869.8,820.0 L864.6,818.8 L859.4,817.9 L854.1,817.1 L848.9,816.5Z" fill="#c9c5bc"/>
<path d="M848.9,816.5 L854.1,817.1 L859.4,817.9 L864.6,818.8 L869.8,820.0 L874.9,821.4 L874.4,823.1 L869.4,821.8 L864.3,820.6 L859.1,819.6 L854.0,818.8 L848.7,818.2Z" fill="#5e5e5e"/>
<path d="M848.7,818.2 L854.0,818.8 L859.1,819.6 L864.3,820.6 L869.4,821.8 L874.4,823.1 L873.8,825.3 L868.9,824.0 L863.9,822.8 L858.8,821.8 L853.7,821.0 L848.6,820.4Z" fill="#f8f8f8"/>
<path d="M848.6,820.4 L853.7,821.0 L858.8,821.8 L863.9,822.8 L868.9,824.0 L873.8,825.3 L872.8,829.1 L868.0,827.8 L863.1,826.6 L858.2,825.7 L853.3,824.9 L848.3,824.3Z" fill="#676767"/>
<path d="M848.3,824.3 L853.3,824.9 L858.2,825.7 L863.1,826.6 L868.0,827.8 L872.8,829.1 L872.2,831.5 L867.5,830.1 L862.7,829.0 L857.9,828.0 L853.0,827.2 L848.1,826.6Z" fill="#ececec"/>
<path d="M872.8,806.9 L878.4,808.3 L884.0,809.9 L889.5,811.7 L894.9,813.7 L900.3,815.9 L899.8,817.0 L894.5,814.8 L889.1,812.8 L883.6,811.0 L878.1,809.4 L872.5,808.0Z" fill="#e8e6e0"/>
<path d="M872.5,808.0 L878.1,809.4 L883.6,811.0 L889.1,812.8 L894.5,814.8 L899.8,817.0 L894.8,828.6 L889.9,826.5 L885.0,824.6 L880.0,822.8 L874.9,821.3 L869.8,819.9Z" fill="#c9c5bc"/>
<path d="M869.8,819.9 L874.9,821.3 L880.0,822.8 L885.0,824.6 L889.9,826.5 L894.8,828.6 L894.0,830.3 L889.2,828.2 L884.4,826.3 L879.4,824.6 L874.4,823.1 L869.4,821.7Z" fill="#5f5f5f"/>
<path d="M869.4,821.7 L874.4,823.1 L879.4,824.6 L884.4,826.3 L889.2,828.2 L894.0,830.3 L893.1,832.5 L888.4,830.4 L883.6,828.5 L878.8,826.8 L873.8,825.3 L868.9,823.9Z" fill="#f8f8f8"/>
<path d="M868.9,823.9 L873.8,825.3 L878.8,826.8 L883.6,828.5 L888.4,830.4 L893.1,832.5 L891.5,836.2 L886.9,834.2 L882.3,832.3 L877.6,830.7 L872.8,829.1 L868.0,827.8Z" fill="#696969"/>
<path d="M868.0,827.8 L872.8,829.1 L877.6,830.7 L882.3,832.3 L886.9,834.2 L891.5,836.2 L890.5,838.5 L886.0,836.5 L881.5,834.6 L876.9,833.0 L872.2,831.5 L867.5,830.1Z" fill="#ebebeb"/>
<path d="M894.9,813.7 L900.3,815.9 L905.6,818.3 L910.8,820.9 L915.8,823.7 L920.8,826.7 L920.2,827.7 L915.2,824.8 L910.2,822.0 L905.0,819.4 L899.8,817.0 L894.5,814.8Z" fill="#e8e6e0"/>
<path d="M894.5,814.8 L899.8,817.0 L905.0,819.4 L910.2,822.0 L915.2,824.8 L920.2,827.7 L913.4,838.6 L908.9,835.8 L904.3,833.2 L899.6,830.8 L894.8,828.5 L889.9,826.4Z" fill="#c9c5bc"/>
<path d="M889.9,826.4 L894.8,828.5 L899.6,830.8 L904.3,833.2 L908.9,835.8 L913.4,838.6 L912.4,840.3 L907.9,837.5 L903.4,834.9 L898.8,832.5 L894.1,830.3 L889.3,828.2Z" fill="#616161"/>
<path d="M889.3,828.2 L894.1,830.3 L898.8,832.5 L903.4,834.9 L907.9,837.5 L912.4,840.3 L911.1,842.4 L906.7,839.6 L902.3,837.1 L897.7,834.7 L893.1,832.4 L888.4,830.4Z" fill="#f8f8f8"/>
<path d="M888.4,830.4 L893.1,832.4 L897.7,834.7 L902.3,837.1 L906.7,839.6 L911.1,842.4 L908.9,845.9 L904.7,843.3 L900.3,840.8 L895.9,838.4 L891.5,836.2 L886.9,834.2Z" fill="#6b6b6b"/>
<path d="M886.9,834.2 L891.5,836.2 L895.9,838.4 L900.3,840.8 L904.7,843.3 L908.9,845.9 L907.6,848.1 L903.4,845.5 L899.2,843.0 L894.9,840.7 L890.5,838.5 L886.0,836.5Z" fill="#eaeaea"/>
<path d="M915.8,823.7 L920.8,826.7 L925.7,829.8 L930.5,833.1 L935.1,836.6 L939.6,840.3 L938.8,841.3 L934.3,837.6 L929.7,834.2 L925.0,830.9 L920.2,827.7 L915.2,824.8Z" fill="#e8e6e0"/>
<path d="M915.2,824.8 L920.2,827.7 L925.0,830.9 L929.7,834.2 L934.3,837.6 L938.8,841.3 L930.5,851.2 L926.4,847.8 L922.2,844.6 L917.9,841.5 L913.5,838.5 L908.9,835.8Z" fill="#c9c5bc"/>
<path d="M908.9,835.8 L913.5,838.5 L917.9,841.5 L922.2,844.6 L926.4,847.8 L930.5,851.2 L929.2,852.8 L925.1,849.4 L921.0,846.2 L916.8,843.1 L912.4,840.2 L908.0,837.5Z" fill="#636363"/>
<path d="M908.0,837.5 L912.4,840.2 L916.8,843.1 L921.0,846.2 L925.1,849.4 L929.2,852.8 L927.5,854.7 L923.6,851.4 L919.5,848.2 L915.4,845.2 L911.1,842.3 L906.8,839.6Z" fill="#f8f8f8"/>
<path d="M906.8,839.6 L911.1,842.3 L915.4,845.2 L919.5,848.2 L923.6,851.4 L927.5,854.7 L924.8,858.0 L920.9,854.8 L917.0,851.7 L913.0,848.7 L908.9,845.9 L904.7,843.3Z" fill="#6d6d6d"/>
<path d="M904.7,843.3 L908.9,845.9 L913.0,848.7 L917.0,851.7 L920.9,854.8 L924.8,858.0 L923.1,860.0 L919.4,856.8 L915.5,853.8 L911.6,850.8 L907.6,848.1 L903.4,845.5Z" fill="#e9e9e9"/>
<path d="M935.1,836.6 L939.6,840.3 L944.0,844.1 L948.2,848.0 L952.3,852.1 L956.3,856.4 L955.3,857.2 L951.4,853.0 L947.3,849.0 L943.1,845.0 L938.8,841.3 L934.3,837.6Z" fill="#e8e6e0"/>
<path d="M934.3,837.6 L938.8,841.3 L943.1,845.0 L947.3,849.0 L951.4,853.0 L955.3,857.2 L945.6,866.0 L942.0,862.1 L938.3,858.3 L934.5,854.7 L930.5,851.1 L926.4,847.8Z" fill="#c9c5bc"/>
<path d="M926.4,847.8 L930.5,851.1 L934.5,854.7 L938.3,858.3 L942.0,862.1 L945.6,866.0 L944.1,867.4 L940.5,863.6 L936.9,859.8 L933.1,856.2 L929.2,852.7 L925.2,849.4Z" fill="#656565"/>
<path d="M925.2,849.4 L929.2,852.7 L933.1,856.2 L936.9,859.8 L940.5,863.6 L944.1,867.4 L942.1,869.2 L938.7,865.4 L935.1,861.7 L931.4,858.1 L927.6,854.7 L923.6,851.4Z" fill="#f8f8f8"/>
<path d="M923.6,851.4 L927.6,854.7 L931.4,858.1 L935.1,861.7 L938.7,865.4 L942.1,869.2 L938.8,872.2 L935.5,868.4 L932.0,864.8 L928.5,861.4 L924.8,858.0 L920.9,854.8Z" fill="#6f6f6f"/>
<path d="M920.9,854.8 L924.8,858.0 L928.5,861.4 L932.0,864.8 L935.5,868.4 L938.8,872.2 L936.9,873.9 L933.6,870.3 L930.2,866.7 L926.7,863.3 L923.1,860.0 L919.4,856.8Z" fill="#e8e8e8"/>
<path d="M952.3,852.1 L956.3,856.4 L960.1,860.7 L963.8,865.2 L967.3,869.8 L970.7,874.6 L969.5,875.3 L966.2,870.6 L962.7,866.1 L959.1,861.6 L955.3,857.2 L951.4,853.0Z" fill="#e8e6e0"/>
<path d="M951.4,853.0 L955.3,857.2 L959.1,861.6 L962.7,866.1 L966.2,870.6 L969.5,875.3 L959.1,882.5 L956.0,878.1 L952.9,873.8 L949.5,869.7 L946.1,865.6 L942.5,861.7Z" fill="#c8c5bc"/>
<path d="M942.5,861.7 L946.1,865.6 L949.5,869.7 L952.9,873.8 L956.0,878.1 L959.1,882.5 L957.0,883.9 L954.0,879.6 L950.9,875.4 L947.6,871.3 L944.2,867.3 L940.7,863.4Z" fill="#727271"/>
<path d="M940.7,863.4 L944.2,867.3 L947.6,871.3 L950.9,875.4 L954.0,879.6 L957.0,883.9 L954.8,885.4 L951.9,881.2 L948.8,877.0 L945.6,873.0 L942.3,869.0 L938.8,865.2Z" fill="#f1f1f0"/>
<path d="M938.8,865.2 L942.3,869.0 L945.6,873.0 L948.8,877.0 L951.9,881.2 L954.8,885.4 L951.2,887.9 L948.4,883.7 L945.4,879.7 L942.3,875.8 L939.1,871.9 L935.8,868.2Z" fill="#737372"/>
<path d="M935.8,868.2 L939.1,871.9 L942.3,875.8 L945.4,879.7 L948.4,883.7 L951.2,887.9 L948.7,889.6 L945.9,885.5 L943.1,881.6 L940.0,877.7 L936.9,873.9 L933.6,870.3Z" fill="#e4e4e4"/>
<path d="M967.3,869.8 L970.7,874.6 L973.9,879.4 L976.9,884.4 L979.8,889.4 L982.5,894.5 L981.2,895.2 L978.5,890.1 L975.7,885.1 L972.7,880.2 L969.5,875.4 L966.2,870.7Z" fill="#e8e6e1"/>
<path d="M966.2,870.7 L969.5,875.4 L972.7,880.2 L975.7,885.1 L978.5,890.1 L981.2,895.2 L970.9,900.4 L968.4,895.6 L965.8,890.9 L963.0,886.3 L960.1,881.8 L957.0,877.4Z" fill="#c7c4bc"/>
<path d="M957.0,877.4 L960.1,881.8 L963.0,886.3 L965.8,890.9 L968.4,895.6 L970.9,900.4 L967.8,901.9 L965.4,897.3 L962.8,892.7 L960.1,888.2 L957.3,883.7 L954.3,879.4Z" fill="#888888"/>
<path d="M954.3,879.4 L957.3,883.7 L960.1,888.2 L962.8,892.7 L965.4,897.3 L967.8,901.9 L965.5,903.1 L963.1,898.5 L960.6,894.0 L957.9,889.6 L955.1,885.2 L952.2,880.9Z" fill="#e2e2e2"/>
<path d="M952.2,880.9 L955.1,885.2 L957.9,889.6 L960.6,894.0 L963.1,898.5 L965.5,903.1 L961.9,905.0 L959.6,900.5 L957.1,896.0 L954.6,891.7 L951.8,887.4 L949.0,883.3Z" fill="#787878"/>
<path d="M949.0,883.3 L951.8,887.4 L954.6,891.7 L957.1,896.0 L959.6,900.5 L961.9,905.0 L958.4,906.7 L956.2,902.3 L953.8,898.0 L951.3,893.7 L948.7,889.6 L945.9,885.5Z" fill="#dddddc"/>
<path d="M979.8,889.4 L982.5,894.5 L985.0,899.8 L987.4,905.1 L989.6,910.4 L991.6,915.9 L990.2,916.4 L988.2,911.0 L986.0,905.6 L983.7,900.4 L981.2,895.2 L978.5,890.1Z" fill="#e7e6e2"/>
<path d="M978.5,890.1 L981.2,895.2 L983.7,900.4 L986.0,905.6 L988.2,911.0 L990.2,916.4 L980.4,919.8 L978.5,914.7 L976.5,909.7 L974.3,904.7 L971.9,899.9 L969.5,895.0Z" fill="#c6c4bd"/>
<path d="M969.5,895.0 L971.9,899.9 L974.3,904.7 L976.5,909.7 L978.5,914.7 L980.4,919.8 L976.3,921.3 L974.5,916.3 L972.5,911.4 L970.4,906.6 L968.1,901.8 L965.7,897.1Z" fill="#a0a09f"/>
<path d="M965.7,897.1 L968.1,901.8 L970.4,906.6 L972.5,911.4 L974.5,916.3 L976.3,921.3 L973.8,922.1 L972.0,917.2 L970.1,912.4 L968.0,907.6 L965.8,903.0 L963.5,898.3Z" fill="#d4d4d2"/>
<path d="M963.5,898.3 L965.8,903.0 L968.0,907.6 L970.1,912.4 L972.0,917.2 L973.8,922.1 L970.3,923.4 L968.6,918.6 L966.7,913.9 L964.7,909.2 L962.5,904.6 L960.2,900.1Z" fill="#7e7e7c"/>
<path d="M960.2,900.1 L962.5,904.6 L964.7,909.2 L966.7,913.9 L968.6,918.6 L970.3,923.4 L965.9,924.9 L964.3,920.3 L962.5,915.7 L960.5,911.2 L958.4,906.7 L956.2,902.3Z" fill="#d6d6d4"/>
<path d="M989.6,910.4 L991.6,915.9 L993.4,921.4 L995.1,926.9 L996.6,932.5 L997.9,938.2 L996.4,938.5 L995.1,932.9 L993.6,927.3 L992.0,921.8 L990.1,916.4 L988.1,911.0Z" fill="#e7e6e2"/>
<path d="M988.1,911.0 L990.1,916.4 L992.0,921.8 L993.6,927.3 L995.1,932.9 L996.4,938.5 L987.4,940.4 L986.1,935.1 L984.8,929.8 L983.2,924.6 L981.5,919.4 L979.6,914.3Z" fill="#c5c3bd"/>
<path d="M979.6,914.3 L981.5,919.4 L983.2,924.6 L984.8,929.8 L986.1,935.1 L987.4,940.4 L982.3,941.5 L981.1,936.4 L979.7,931.3 L978.3,926.2 L976.6,921.1 L974.8,916.2Z" fill="#b6b6b5"/>
<path d="M974.8,916.2 L976.6,921.1 L978.3,926.2 L979.7,931.3 L981.1,936.4 L982.3,941.5 L979.7,942.1 L978.6,937.0 L977.3,931.9 L975.8,926.9 L974.2,922.0 L972.4,917.1Z" fill="#c6c6c4"/>
<path d="M972.4,917.1 L974.2,922.0 L975.8,926.9 L977.3,931.9 L978.6,937.0 L979.7,942.1 L976.4,942.8 L975.3,937.8 L974.0,932.9 L972.6,928.0 L971.0,923.1 L969.3,918.3Z" fill="#848482"/>
<path d="M969.3,918.3 L971.0,923.1 L972.6,928.0 L974.0,932.9 L975.3,937.8 L976.4,942.8 L971.1,944.0 L970.0,939.1 L968.8,934.3 L967.4,929.6 L965.9,924.9 L964.3,920.3Z" fill="#cececc"/>
<path d="M996.6,932.5 L997.9,938.2 L999.0,943.9 L1000.0,949.6 L1000.7,955.4 L1001.3,961.1 L999.7,961.3 L999.2,955.5 L998.4,949.8 L997.5,944.2 L996.3,938.5 L995.0,932.9Z" fill="#e6e6e3"/>
<path d="M995.0,932.9 L996.3,938.5 L997.5,944.2 L998.4,949.8 L999.2,955.5 L999.7,961.3 L991.8,961.9 L991.2,956.5 L990.5,951.0 L989.6,945.6 L988.6,940.2 L987.3,934.8Z" fill="#c4c3be"/>
<path d="M987.3,934.8 L988.6,940.2 L989.6,945.6 L990.5,951.0 L991.2,956.5 L991.8,961.9 L985.7,962.5 L985.2,957.2 L984.5,951.9 L983.6,946.7 L982.6,941.5 L981.4,936.3Z" fill="#cececc"/>
<path d="M981.4,936.3 L982.6,941.5 L983.6,946.7 L984.5,951.9 L985.2,957.2 L985.7,962.5 L983.2,962.7 L982.7,957.5 L982.0,952.3 L981.1,947.1 L980.1,942.0 L979.0,936.9Z" fill="#b8b8b4"/>
<path d="M979.0,936.9 L980.1,942.0 L981.1,947.1 L982.0,952.3 L982.7,957.5 L983.2,962.7 L980.2,962.9 L979.7,957.8 L979.0,952.7 L978.2,947.7 L977.2,942.6 L976.1,937.6Z" fill="#8a8a86"/>
<path d="M976.1,937.6 L977.2,942.6 L978.2,947.7 L979.0,952.7 L979.7,957.8 L980.2,962.9 L973.9,963.5 L973.4,958.6 L972.8,953.7 L972.0,948.8 L971.1,944.0 L970.0,939.1Z" fill="#c7c7c4"/>
<path d="M1000.7,955.4 L1001.3,961.1 L1001.7,966.9 L1001.9,972.7 L1002.0,978.5 L1001.9,984.3 L1000.2,984.2 L1000.4,978.5 L1000.3,972.7 L1000.1,967.0 L999.7,961.3 L999.1,955.5Z" fill="#e6e6e4"/>
<path d="M999.1,955.5 L999.7,961.3 L1000.1,967.0 L1000.3,972.7 L1000.4,978.5 L1000.2,984.2 L993.5,984.0 L993.7,978.4 L993.6,972.9 L993.4,967.4 L993.0,961.8 L992.5,956.3Z" fill="#c3c2be"/>
<path d="M992.5,956.3 L993.0,961.8 L993.4,967.4 L993.6,972.9 L993.7,978.4 L993.5,984.0 L986.6,983.7 L986.7,978.4 L986.6,973.1 L986.4,967.7 L986.1,962.4 L985.5,957.1Z" fill="#e4e4e3"/>
<path d="M985.5,957.1 L986.1,962.4 L986.4,967.7 L986.6,973.1 L986.7,978.4 L986.6,983.7 L984.1,983.6 L984.2,978.4 L984.1,973.1 L983.9,967.9 L983.6,962.6 L983.1,957.4Z" fill="#a9a9a6"/>
<path d="M983.1,957.4 L983.6,962.6 L983.9,967.9 L984.1,973.1 L984.2,978.4 L984.1,983.6 L981.4,983.5 L981.5,978.3 L981.5,973.2 L981.3,968.0 L980.9,962.9 L980.4,957.7Z" fill="#8f8f8c"/>
<path d="M980.4,957.7 L980.9,962.9 L981.3,968.0 L981.5,973.2 L981.5,978.3 L981.4,983.5 L974.4,983.2 L974.5,978.3 L974.5,973.4 L974.3,968.4 L973.9,963.5 L973.4,958.6Z" fill="#c0c0bc"/>
<path d="M1002.0,978.5 L1001.9,984.3 L1001.5,990.1 L1001.0,995.9 L1000.3,1001.6 L998.6,1001.4 L999.2,995.7 L999.7,990.0 L1000.0,984.2 L1000.2,978.5Z" fill="#d9d9d7"/>
<path d="M1000.2,978.5 L1000.0,984.2 L999.7,990.0 L999.2,995.7 L998.6,1001.4 L992.7,1000.6 L993.4,995.1 L993.9,989.6 L994.2,984.0 L994.3,978.4Z" fill="#b9b9b5"/>
<path d="M994.3,978.4 L994.2,984.0 L993.9,989.6 L993.4,995.1 L992.7,1000.6 L985.7,999.7 L986.3,994.4 L986.8,989.1 L987.1,983.7 L987.2,978.4Z" fill="#f0f0ee"/>
<path d="M987.2,978.4 L987.1,983.7 L986.8,989.1 L986.3,994.4 L985.7,999.7 L983.1,999.3 L983.7,994.1 L984.1,988.9 L984.4,983.6 L984.5,978.4Z" fill="#a1a19e"/>
<path d="M984.5,978.4 L984.4,983.6 L984.1,988.9 L983.7,994.1 L983.1,999.3 L980.5,999.0 L981.1,993.8 L981.5,988.7 L981.8,983.5 L981.9,978.3Z" fill="#9a9a96"/>
<path d="M981.9,978.3 L981.8,983.5 L981.5,988.7 L981.1,993.8 L980.5,999.0 L973.1,998.0 L973.7,993.1 L974.1,988.2 L974.4,983.2 L974.5,978.3Z" fill="#bebeba"/>
<path d="M1001.0,995.9 L1000.3,1001.6 L999.5,1007.4 L998.4,1013.1 L997.2,1018.8 L995.8,1024.4 L993.8,1023.8 L995.1,1018.3 L996.3,1012.7 L997.4,1007.0 L998.2,1001.4 L998.9,995.7Z" fill="#bfbfbd"/>
<path d="M998.9,995.7 L998.2,1001.4 L997.4,1007.0 L996.3,1012.7 L995.1,1018.3 L993.8,1023.8 L988.4,1022.4 L989.8,1017.0 L990.9,1011.6 L991.9,1006.1 L992.7,1000.6 L993.4,995.1Z" fill="#a6a6a2"/>
<path d="M993.4,995.1 L992.7,1000.6 L991.9,1006.1 L990.9,1011.6 L989.8,1017.0 L988.4,1022.4 L982.3,1020.8 L983.5,1015.6 L984.6,1010.3 L985.6,1005.1 L986.4,999.8 L987.0,994.4Z" fill="#f1f1ef"/>
<path d="M987.0,994.4 L986.4,999.8 L985.6,1005.1 L984.6,1010.3 L983.5,1015.6 L982.3,1020.8 L979.3,1020.0 L980.5,1014.9 L981.6,1009.7 L982.5,1004.6 L983.3,999.4 L983.9,994.1Z" fill="#a0a09d"/>
<path d="M983.9,994.1 L983.3,999.4 L982.5,1004.6 L981.6,1009.7 L980.5,1014.9 L979.3,1020.0 L976.6,1019.3 L977.8,1014.3 L978.9,1009.2 L979.8,1004.1 L980.6,999.0 L981.1,993.8Z" fill="#a9a9a6"/>
<path d="M981.1,993.8 L980.6,999.0 L979.8,1004.1 L978.9,1009.2 L977.8,1014.3 L976.6,1019.3 L969.4,1017.4 L970.6,1012.6 L971.6,1007.7 L972.4,1002.9 L973.1,998.0 L973.7,993.1Z" fill="#c2c2be"/>
<path d="M997.2,1018.8 L995.8,1024.4 L994.2,1030.0 L992.5,1035.5 L990.5,1041.0 L988.4,1046.4 L986.2,1045.5 L988.2,1040.1 L990.2,1034.7 L991.9,1029.3 L993.4,1023.8 L994.8,1018.2Z" fill="#a5a5a4"/>
<path d="M994.8,1018.2 L993.4,1023.8 L991.9,1029.3 L990.2,1034.7 L988.2,1040.1 L986.2,1045.5 L981.4,1043.5 L983.4,1038.3 L985.3,1033.1 L986.9,1027.8 L988.4,1022.4 L989.8,1017.0Z" fill="#939390"/>
<path d="M989.8,1017.0 L988.4,1022.4 L986.9,1027.8 L985.3,1033.1 L983.4,1038.3 L981.4,1043.5 L976.2,1041.4 L978.1,1036.3 L979.9,1031.3 L981.5,1026.1 L982.9,1021.0 L984.2,1015.7Z" fill="#f2f2f0"/>
<path d="M984.2,1015.7 L982.9,1021.0 L981.5,1026.1 L979.9,1031.3 L978.1,1036.3 L976.2,1041.4 L973.0,1040.1 L974.8,1035.1 L976.6,1030.2 L978.1,1025.1 L979.5,1020.1 L980.8,1014.9Z" fill="#9f9f9c"/>
<path d="M980.8,1014.9 L979.5,1020.1 L978.1,1025.1 L976.6,1030.2 L974.8,1035.1 L973.0,1040.1 L970.2,1038.9 L972.1,1034.1 L973.7,1029.2 L975.3,1024.3 L976.7,1019.3 L977.9,1014.3Z" fill="#b8b8b5"/>
<path d="M977.9,1014.3 L976.7,1019.3 L975.3,1024.3 L973.7,1029.2 L972.1,1034.1 L970.2,1038.9 L963.4,1036.1 L965.1,1031.5 L966.7,1026.9 L968.1,1022.1 L969.4,1017.4 L970.6,1012.6Z" fill="#c7c7c3"/>
<path d="M990.5,1041.0 L988.4,1046.4 L986.2,1051.7 L983.7,1057.0 L981.1,1062.1 L978.3,1067.2 L975.9,1065.9 L978.7,1060.9 L981.2,1055.8 L983.6,1050.6 L985.9,1045.3 L987.9,1040.0Z" fill="#8b8b8a"/>
<path d="M987.9,1040.0 L985.9,1045.3 L983.6,1050.6 L981.2,1055.8 L978.7,1060.9 L975.9,1065.9 L971.8,1063.5 L974.4,1058.6 L976.9,1053.7 L979.3,1048.6 L981.4,1043.5 L983.4,1038.3Z" fill="#80807e"/>
<path d="M983.4,1038.3 L981.4,1043.5 L979.3,1048.6 L976.9,1053.7 L974.4,1058.6 L971.8,1063.5 L967.5,1061.1 L970.0,1056.3 L972.4,1051.5 L974.7,1046.6 L976.8,1041.6 L978.7,1036.6Z" fill="#f2f2f1"/>
<path d="M978.7,1036.6 L976.8,1041.6 L974.7,1046.6 L972.4,1051.5 L970.0,1056.3 L967.5,1061.1 L964.1,1059.2 L966.6,1054.5 L969.0,1049.8 L971.2,1045.0 L973.2,1040.1 L975.1,1035.2Z" fill="#9e9e9b"/>
<path d="M975.1,1035.2 L973.2,1040.1 L971.2,1045.0 L969.0,1049.8 L966.6,1054.5 L964.1,1059.2 L961.4,1057.6 L963.9,1053.1 L966.1,1048.4 L968.3,1043.7 L970.3,1039.0 L972.1,1034.1Z" fill="#c7c7c5"/>
<path d="M972.1,1034.1 L970.3,1039.0 L968.3,1043.7 L966.1,1048.4 L963.9,1053.1 L961.4,1057.6 L955.0,1054.0 L957.3,1049.6 L959.5,1045.2 L961.5,1040.7 L963.4,1036.1 L965.1,1031.5Z" fill="#cbcbc7"/>
<path d="M981.1,1062.1 L978.3,1067.2 L975.3,1072.2 L972.2,1077.1 L968.9,1081.9 L965.5,1086.6 L963.1,1084.7 L966.5,1080.1 L969.7,1075.4 L972.7,1070.6 L975.6,1065.7 L978.4,1060.7Z" fill="#717170"/>
<path d="M978.4,1060.7 L975.6,1065.7 L972.7,1070.6 L969.7,1075.4 L966.5,1080.1 L963.1,1084.7 L959.6,1082.1 L962.9,1077.6 L966.0,1073.0 L969.0,1068.3 L971.8,1063.5 L974.4,1058.6Z" fill="#6d6d6b"/>
<path d="M974.4,1058.6 L971.8,1063.5 L969.0,1068.3 L966.0,1073.0 L962.9,1077.6 L959.6,1082.1 L956.2,1079.5 L959.4,1075.1 L962.4,1070.6 L965.3,1066.1 L968.0,1061.4 L970.6,1056.6Z" fill="#f3f3f2"/>
<path d="M970.6,1056.6 L968.0,1061.4 L965.3,1066.1 L962.4,1070.6 L959.4,1075.1 L956.2,1079.5 L952.9,1077.0 L956.0,1072.7 L958.9,1068.3 L961.7,1063.9 L964.4,1059.3 L966.8,1054.6Z" fill="#9d9d9a"/>
<path d="M966.8,1054.6 L964.4,1059.3 L961.7,1063.9 L958.9,1068.3 L956.0,1072.7 L952.9,1077.0 L950.3,1075.0 L953.3,1070.8 L956.2,1066.5 L958.9,1062.1 L961.5,1057.6 L963.9,1053.1Z" fill="#d6d6d5"/>
<path d="M963.9,1053.1 L961.5,1057.6 L958.9,1062.1 L956.2,1066.5 L953.3,1070.8 L950.3,1075.0 L944.5,1070.6 L947.3,1066.6 L950.0,1062.4 L952.6,1058.2 L955.0,1054.0 L957.3,1049.6Z" fill="#cfcfcb"/>
<path d="M968.9,1081.9 L965.5,1086.6 L961.9,1091.1 L958.2,1095.6 L954.3,1099.9 L950.2,1104.0 L947.9,1101.7 L951.9,1097.6 L955.7,1093.4 L959.3,1089.0 L962.8,1084.6 L966.2,1080.0Z" fill="#575756"/>
<path d="M966.2,1080.0 L962.8,1084.6 L959.3,1089.0 L955.7,1093.4 L951.9,1097.6 L947.9,1101.7 L945.1,1098.9 L948.9,1094.9 L952.6,1090.7 L956.2,1086.5 L959.6,1082.1 L962.9,1077.6Z" fill="#5a5a59"/>
<path d="M962.9,1077.6 L959.6,1082.1 L956.2,1086.5 L952.6,1090.7 L948.9,1094.9 L945.1,1098.9 L942.6,1096.4 L946.3,1092.4 L950.0,1088.4 L953.4,1084.2 L956.8,1079.9 L959.9,1075.5Z" fill="#f3f3f3"/>
<path d="M959.9,1075.5 L956.8,1079.9 L953.4,1084.2 L950.0,1088.4 L946.3,1092.4 L942.6,1096.4 L939.4,1093.2 L943.0,1089.3 L946.5,1085.4 L949.9,1081.3 L953.1,1077.1 L956.2,1072.9Z" fill="#9b9b99"/>
<path d="M956.2,1072.9 L953.1,1077.1 L949.9,1081.3 L946.5,1085.4 L943.0,1089.3 L939.4,1093.2 L937.0,1090.8 L940.5,1087.0 L943.9,1083.1 L947.2,1079.1 L950.3,1075.0 L953.3,1070.8Z" fill="#e5e5e5"/>
<path d="M953.3,1070.8 L950.3,1075.0 L947.2,1079.1 L943.9,1083.1 L940.5,1087.0 L937.0,1090.8 L931.9,1085.6 L935.2,1082.0 L938.5,1078.3 L941.5,1074.5 L944.5,1070.6 L947.3,1066.6Z" fill="#d3d3cf"/>
<path d="M954.3,1099.9 L950.2,1104.0 L946.1,1108.1 L941.7,1111.9 L937.3,1115.6 L932.7,1119.2 L930.6,1116.4 L935.1,1112.9 L939.4,1109.2 L943.6,1105.4 L947.7,1101.5 L951.6,1097.4Z" fill="#3d3d3d"/>
<path d="M951.6,1097.4 L947.7,1101.5 L943.6,1105.4 L939.4,1109.2 L935.1,1112.9 L930.6,1116.4 L928.4,1113.5 L932.8,1110.1 L937.0,1106.5 L941.1,1102.8 L945.1,1098.9 L948.9,1094.9Z" fill="#474747"/>
<path d="M948.9,1094.9 L945.1,1098.9 L941.1,1102.8 L937.0,1106.5 L932.8,1110.1 L928.4,1113.5 L926.7,1111.2 L931.0,1107.8 L935.1,1104.3 L939.1,1100.6 L943.0,1096.8 L946.8,1092.9Z" fill="#f4f4f4"/>
<path d="M946.8,1092.9 L943.0,1096.8 L939.1,1100.6 L935.1,1104.3 L931.0,1107.8 L926.7,1111.2 L923.8,1107.4 L928.0,1104.1 L932.0,1100.6 L935.8,1097.1 L939.6,1093.3 L943.2,1089.5Z" fill="#9a9a98"/>
<path d="M943.2,1089.5 L939.6,1093.3 L935.8,1097.1 L932.0,1100.6 L928.0,1104.1 L923.8,1107.4 L921.7,1104.5 L925.7,1101.3 L929.6,1097.9 L933.4,1094.4 L937.0,1090.8 L940.6,1087.0Z" fill="#f4f4f4"/>
<path d="M940.6,1087.0 L937.0,1090.8 L933.4,1094.4 L929.6,1097.9 L925.7,1101.3 L921.7,1104.5 L917.4,1098.8 L921.2,1095.7 L924.9,1092.5 L928.5,1089.1 L931.9,1085.6 L935.2,1082.0Z" fill="#d8d8d4"/>
<path d="M937.3,1115.6 L932.7,1119.2 L928.0,1122.6 L923.2,1125.8 L918.2,1128.9 L913.2,1131.8 L911.5,1128.7 L916.5,1125.9 L921.3,1122.9 L926.0,1119.7 L930.6,1116.4 L935.0,1112.9Z" fill="#383838"/>
<path d="M935.0,1112.9 L930.6,1116.4 L926.0,1119.7 L921.3,1122.9 L916.5,1125.9 L911.5,1128.7 L909.9,1125.6 L914.7,1122.9 L919.4,1119.9 L923.9,1116.8 L928.4,1113.5 L932.8,1110.1Z" fill="#434343"/>
<path d="M932.8,1110.1 L928.4,1113.5 L923.9,1116.8 L919.4,1119.9 L914.7,1122.9 L909.9,1125.6 L908.6,1123.2 L913.3,1120.5 L917.9,1117.6 L922.4,1114.5 L926.7,1111.3 L931.0,1107.9Z" fill="#f4f4f4"/>
<path d="M931.0,1107.9 L926.7,1111.3 L922.4,1114.5 L917.9,1117.6 L913.3,1120.5 L908.6,1123.2 L906.3,1119.1 L910.8,1116.4 L915.3,1113.6 L919.6,1110.6 L923.8,1107.4 L928.0,1104.1Z" fill="#9a9a98"/>
<path d="M928.0,1104.1 L923.8,1107.4 L919.6,1110.6 L915.3,1113.6 L910.8,1116.4 L906.3,1119.1 L904.6,1116.0 L909.0,1113.4 L913.4,1110.6 L917.6,1107.6 L921.7,1104.5 L925.7,1101.3Z" fill="#f6f6f6"/>
<path d="M925.7,1101.3 L921.7,1104.5 L917.6,1107.6 L913.4,1110.6 L909.0,1113.4 L904.6,1116.0 L901.3,1109.9 L905.5,1107.4 L909.5,1104.7 L913.5,1101.8 L917.4,1098.8 L921.2,1095.7Z" fill="#d8d8d4"/>
<path d="M918.2,1128.9 L913.2,1131.8 L908.1,1134.5 L902.8,1137.0 L897.5,1139.3 L892.1,1141.4 L890.9,1138.2 L896.2,1136.1 L901.4,1133.8 L906.5,1131.4 L911.5,1128.7 L916.5,1125.9Z" fill="#363636"/>
<path d="M916.5,1125.9 L911.5,1128.7 L906.5,1131.4 L901.4,1133.8 L896.2,1136.1 L890.9,1138.2 L889.7,1135.0 L894.9,1132.9 L900.0,1130.7 L905.0,1128.3 L909.9,1125.6 L914.7,1122.9Z" fill="#414141"/>
<path d="M914.7,1122.9 L909.9,1125.6 L905.0,1128.3 L900.0,1130.7 L894.9,1132.9 L889.7,1135.0 L888.8,1132.5 L893.9,1130.4 L898.9,1128.2 L903.7,1125.8 L908.6,1123.2 L913.3,1120.5Z" fill="#f4f4f4"/>
<path d="M913.3,1120.5 L908.6,1123.2 L903.7,1125.8 L898.9,1128.2 L893.9,1130.4 L888.8,1132.5 L887.2,1128.2 L892.1,1126.2 L896.9,1124.0 L901.6,1121.6 L906.3,1119.1 L910.8,1116.4Z" fill="#9a9a98"/>
<path d="M910.8,1116.4 L906.3,1119.1 L901.6,1121.6 L896.9,1124.0 L892.1,1126.2 L887.2,1128.2 L886.0,1125.0 L890.8,1123.0 L895.5,1120.8 L900.1,1118.5 L904.6,1116.0 L909.0,1113.4Z" fill="#f6f6f6"/>
<path d="M909.0,1113.4 L904.6,1116.0 L900.1,1118.5 L895.5,1120.8 L890.8,1123.0 L886.0,1125.0 L883.7,1118.6 L888.2,1116.6 L892.6,1114.6 L897.0,1112.3 L901.3,1109.9 L905.5,1107.4Z" fill="#d8d8d4"/>
<path d="M897.5,1139.3 L892.1,1141.4 L886.6,1143.3 L881.1,1145.0 L875.5,1146.5 L869.8,1147.8 L869.1,1144.5 L874.7,1143.2 L880.2,1141.8 L885.6,1140.1 L890.9,1138.2 L896.2,1136.1Z" fill="#343434"/>
<path d="M896.2,1136.1 L890.9,1138.2 L885.6,1140.1 L880.2,1141.8 L874.7,1143.2 L869.1,1144.5 L868.5,1141.3 L873.9,1140.0 L879.2,1138.5 L884.5,1136.9 L889.7,1135.0 L894.9,1132.9Z" fill="#3f3f3f"/>
<path d="M894.9,1132.9 L889.7,1135.0 L884.5,1136.9 L879.2,1138.5 L873.9,1140.0 L868.5,1141.3 L867.9,1138.7 L873.2,1137.5 L878.5,1136.0 L883.7,1134.3 L888.8,1132.5 L893.9,1130.4Z" fill="#f4f4f4"/>
<path d="M893.9,1130.4 L888.8,1132.5 L883.7,1134.3 L878.5,1136.0 L873.2,1137.5 L867.9,1138.7 L867.0,1134.3 L872.2,1133.1 L877.2,1131.6 L882.3,1130.0 L887.2,1128.2 L892.1,1126.2Z" fill="#9a9a98"/>
<path d="M892.1,1126.2 L887.2,1128.2 L882.3,1130.0 L877.2,1131.6 L872.2,1133.1 L867.0,1134.3 L866.3,1131.1 L871.4,1129.8 L876.3,1128.4 L881.2,1126.8 L886.0,1125.0 L890.8,1123.0Z" fill="#f6f6f6"/>
<path d="M890.8,1123.0 L886.0,1125.0 L881.2,1126.8 L876.3,1128.4 L871.4,1129.8 L866.3,1131.1 L865.0,1124.6 L869.7,1123.3 L874.5,1121.9 L879.1,1120.3 L883.7,1118.6 L888.2,1116.6Z" fill="#d8d8d4"/>
<path d="M875.5,1146.5 L869.8,1147.8 L864.1,1148.9 L858.4,1149.7 L852.6,1150.3 L846.8,1150.8 L846.7,1147.5 L852.3,1147.1 L858.0,1146.5 L863.6,1145.6 L869.1,1144.5 L874.7,1143.2Z" fill="#333333"/>
<path d="M874.7,1143.2 L869.1,1144.5 L863.6,1145.6 L858.0,1146.5 L852.3,1147.1 L846.7,1147.5 L846.5,1144.3 L852.0,1143.9 L857.5,1143.2 L863.0,1142.4 L868.5,1141.3 L873.9,1140.0Z" fill="#3e3e3e"/>
<path d="M873.9,1140.0 L868.5,1141.3 L863.0,1142.4 L857.5,1143.2 L852.0,1143.9 L846.5,1144.3 L846.3,1141.8 L851.8,1141.3 L857.2,1140.7 L862.6,1139.8 L867.9,1138.7 L873.2,1137.5Z" fill="#f4f4f4"/>
<path d="M873.2,1137.5 L867.9,1138.7 L862.6,1139.8 L857.2,1140.7 L851.8,1141.3 L846.3,1141.8 L846.1,1137.4 L851.4,1136.9 L856.6,1136.3 L861.8,1135.4 L867.0,1134.3 L872.2,1133.1Z" fill="#9a9a98"/>
<path d="M872.2,1133.1 L867.0,1134.3 L861.8,1135.4 L856.6,1136.3 L851.4,1136.9 L846.1,1137.4 L845.9,1134.2 L851.1,1133.7 L856.2,1133.0 L861.3,1132.1 L866.3,1131.1 L871.4,1129.8Z" fill="#f6f6f6"/>
<path d="M871.4,1129.8 L866.3,1131.1 L861.3,1132.1 L856.2,1133.0 L851.1,1133.7 L845.9,1134.2 L845.6,1127.7 L850.5,1127.2 L855.4,1126.5 L860.2,1125.6 L865.0,1124.6 L869.7,1123.3Z" fill="#d8d8d4"/>
<path d="M852.6,1150.3 L846.8,1150.8 L841.0,1151.0 L835.2,1150.9 L829.4,1150.6 L823.7,1150.1 L824.0,1147.0 L829.7,1147.5 L835.3,1147.8 L841.0,1147.8 L846.7,1147.5 L852.3,1147.1Z" fill="#313131"/>
<path d="M852.3,1147.1 L846.7,1147.5 L841.0,1147.8 L835.3,1147.8 L829.7,1147.5 L824.0,1147.0 L824.3,1143.9 L829.9,1144.3 L835.4,1144.6 L840.9,1144.6 L846.5,1144.3 L852.0,1143.9Z" fill="#3c3c3c"/>
<path d="M852.0,1143.9 L846.5,1144.3 L840.9,1144.6 L835.4,1144.6 L829.9,1144.3 L824.3,1143.9 L824.6,1141.4 L830.1,1141.8 L835.5,1142.1 L840.9,1142.0 L846.3,1141.8 L851.8,1141.3Z" fill="#f4f4f4"/>
<path d="M851.8,1141.3 L846.3,1141.8 L840.9,1142.0 L835.5,1142.1 L830.1,1141.8 L824.6,1141.4 L825.0,1137.2 L830.4,1137.6 L835.6,1137.7 L840.8,1137.7 L846.1,1137.4 L851.4,1136.9Z" fill="#9a9a98"/>
<path d="M851.4,1136.9 L846.1,1137.4 L840.8,1137.7 L835.6,1137.7 L830.4,1137.6 L825.0,1137.2 L825.3,1134.0 L830.6,1134.4 L835.7,1134.6 L840.8,1134.5 L845.9,1134.2 L851.1,1133.7Z" fill="#f6f6f6"/>
<path d="M851.1,1133.7 L845.9,1134.2 L840.8,1134.5 L835.7,1134.6 L830.6,1134.4 L825.3,1134.0 L826.0,1127.8 L831.0,1128.1 L835.9,1128.2 L840.7,1128.1 L845.6,1127.7 L850.5,1127.2Z" fill="#d8d8d4"/>
<path d="M829.4,1150.6 L823.7,1150.1 L817.9,1149.4 L812.1,1148.7 L806.4,1147.8 L800.7,1146.7 L801.4,1143.7 L806.9,1144.7 L812.6,1145.6 L818.3,1146.3 L824.0,1147.0 L829.7,1147.5Z" fill="#2f2f2f"/>
<path d="M829.7,1147.5 L824.0,1147.0 L818.3,1146.3 L812.6,1145.6 L806.9,1144.7 L801.4,1143.7 L802.1,1140.7 L807.5,1141.7 L813.0,1142.5 L818.7,1143.3 L824.3,1143.9 L829.9,1144.3Z" fill="#3a3a3a"/>
<path d="M829.9,1144.3 L824.3,1143.9 L818.7,1143.3 L813.0,1142.5 L807.5,1141.7 L802.1,1140.7 L802.7,1138.4 L807.9,1139.3 L813.4,1140.1 L819.0,1140.8 L824.6,1141.4 L830.1,1141.8Z" fill="#f4f4f4"/>
<path d="M830.1,1141.8 L824.6,1141.4 L819.0,1140.8 L813.4,1140.1 L807.9,1139.3 L802.7,1138.4 L803.6,1134.3 L808.6,1135.2 L814.0,1135.9 L819.5,1136.6 L825.0,1137.2 L830.4,1137.6Z" fill="#9a9a98"/>
<path d="M830.4,1137.6 L825.0,1137.2 L819.5,1136.6 L814.0,1135.9 L808.6,1135.2 L803.6,1134.3 L804.3,1131.3 L809.1,1132.2 L814.4,1132.9 L819.9,1133.5 L825.3,1134.0 L830.6,1134.4Z" fill="#f6f6f6"/>
<path d="M830.6,1134.4 L825.3,1134.0 L819.9,1133.5 L814.4,1132.9 L809.1,1132.2 L804.3,1131.3 L805.7,1125.4 L810.2,1126.1 L815.3,1126.7 L820.7,1127.3 L826.0,1127.8 L831.0,1128.1Z" fill="#d8d8d4"/>
<path d="M806.4,1147.8 L800.7,1146.7 L795.1,1145.1 L789.7,1143.0 L784.6,1140.3 L779.9,1136.9 L781.9,1134.6 L786.2,1137.8 L791.0,1140.3 L796.1,1142.2 L801.4,1143.7 L806.9,1144.7Z" fill="#2d2d2d"/>
<path d="M806.9,1144.7 L801.4,1143.7 L796.1,1142.2 L791.0,1140.3 L786.2,1137.8 L781.9,1134.6 L783.9,1132.4 L787.8,1135.2 L792.2,1137.5 L797.0,1139.4 L802.1,1140.7 L807.5,1141.7Z" fill="#383838"/>
<path d="M807.5,1141.7 L802.1,1140.7 L797.0,1139.4 L792.2,1137.5 L787.8,1135.2 L783.9,1132.4 L785.5,1130.7 L789.1,1133.2 L793.2,1135.4 L797.8,1137.1 L802.7,1138.4 L807.9,1139.3Z" fill="#f4f4f4"/>
<path d="M807.9,1139.3 L802.7,1138.4 L797.8,1137.1 L793.2,1135.4 L789.1,1133.2 L785.5,1130.7 L788.2,1127.7 L791.2,1129.8 L794.9,1131.7 L799.1,1133.2 L803.6,1134.3 L808.6,1135.2Z" fill="#9a9a98"/>
<path d="M808.6,1135.2 L803.6,1134.3 L799.1,1133.2 L794.9,1131.7 L791.2,1129.8 L788.2,1127.7 L790.2,1125.4 L792.8,1127.3 L796.2,1128.9 L800.0,1130.3 L804.3,1131.3 L809.1,1132.2Z" fill="#f6f6f6"/>
<path d="M809.1,1132.2 L804.3,1131.3 L800.0,1130.3 L796.2,1128.9 L792.8,1127.3 L790.2,1125.4 L794.2,1121.0 L796.1,1122.2 L798.7,1123.4 L801.9,1124.5 L805.7,1125.4 L810.2,1126.1Z" fill="#d8d8d4"/>
<path d="M784.6,1140.3 L779.9,1136.9 L776.0,1132.6 L772.7,1127.9 L769.5,1123.0 L772.0,1121.4 L775.1,1126.2 L778.3,1130.7 L781.9,1134.6 L786.2,1137.8Z" fill="#2b2b2b"/>
<path d="M786.2,1137.8 L781.9,1134.6 L778.3,1130.7 L775.1,1126.2 L772.0,1121.4 L774.4,1119.8 L777.6,1124.5 L780.6,1128.9 L783.9,1132.4 L787.8,1135.2Z" fill="#363636"/>
<path d="M787.8,1135.2 L783.9,1132.4 L780.6,1128.9 L777.6,1124.5 L774.4,1119.8 L776.4,1118.5 L779.5,1123.2 L782.4,1127.4 L785.5,1130.7 L789.1,1133.2Z" fill="#f4f4f4"/>
<path d="M789.1,1133.2 L785.5,1130.7 L782.4,1127.4 L779.5,1123.2 L776.4,1118.5 L779.7,1116.3 L782.8,1121.0 L785.6,1124.9 L788.2,1127.7 L791.2,1129.8Z" fill="#9a9a98"/>
<path d="M791.2,1129.8 L788.2,1127.7 L785.6,1124.9 L782.8,1121.0 L779.7,1116.3 L782.2,1114.7 L785.2,1119.3 L787.9,1123.0 L790.2,1125.4 L792.8,1127.3Z" fill="#f6f6f6"/>
<path d="M792.8,1127.3 L790.2,1125.4 L787.9,1123.0 L785.2,1119.3 L782.2,1114.7 L787.1,1111.5 L790.1,1116.0 L792.5,1119.3 L794.2,1121.0 L796.1,1122.2Z" fill="#d8d8d4"/>
</g>
<g id="loop">
<path fill-rule="evenodd" fill="#222224" d="M1607.0,980.0 L1606.9,969.8 L1606.8,959.0 L1606.7,947.9 L1606.7,936.6 L1606.6,925.3 L1606.6,914.1 L1606.5,903.3 L1606.6,893.0 L1606.6,883.3 L1606.7,874.5 L1606.8,866.6 L1607.0,860.0 L1607.2,854.6 L1607.4,850.3 L1607.6,847.0 L1607.9,844.5 L1608.2,842.7 L1608.5,841.4 L1608.9,840.5 L1609.3,839.7 L1609.9,839.1 L1610.5,838.3 L1611.2,837.4 L1612.0,836.0 L1612.9,834.4 L1614.0,832.9 L1615.1,831.5 L1616.3,830.1 L1617.6,828.8 L1618.9,827.5 L1620.4,826.4 L1621.8,825.2 L1623.3,824.2 L1624.9,823.2 L1626.4,822.3 L1628.0,821.5 L1629.6,820.7 L1631.3,820.0 L1633.1,819.4 L1634.9,818.9 L1636.7,818.4 L1638.6,818.0 L1640.5,817.6 L1642.4,817.4 L1644.4,817.2 L1646.3,817.0 L1648.1,817.0 L1650.0,817.0 L1651.9,817.1 L1653.7,817.3 L1655.7,817.6 L1657.6,818.0 L1659.5,818.5 L1661.4,819.0 L1663.3,819.6 L1665.2,820.2 L1667.0,820.9 L1668.7,821.6 L1670.4,822.3 L1672.0,823.0 L1673.5,823.8 L1674.9,824.8 L1676.2,825.9 L1677.5,827.1 L1678.7,828.4 L1679.9,829.6 L1681.1,830.8 L1682.3,831.8 L1683.4,832.7 L1684.6,833.4 L1685.8,833.9 L1687.0,834.0 L1688.2,833.8 L1689.4,833.3 L1690.6,832.6 L1691.7,831.7 L1692.9,830.6 L1694.1,829.4 L1695.3,828.1 L1696.5,826.8 L1697.8,825.6 L1699.1,824.4 L1700.5,823.4 L1702.0,822.5 L1703.6,821.7 L1705.2,820.9 L1707.0,820.2 L1708.7,819.4 L1710.6,818.7 L1712.4,818.0 L1714.3,817.4 L1716.3,816.8 L1718.2,816.4 L1720.1,816.0 L1722.1,815.7 L1724.0,815.6 L1726.0,815.6 L1728.0,815.7 L1730.1,815.9 L1732.2,816.2 L1734.4,816.6 L1736.5,817.1 L1738.6,817.7 L1740.7,818.3 L1742.7,818.9 L1744.6,819.6 L1746.3,820.3 L1748.0,821.0 L1749.5,821.7 L1751.0,822.5 L1752.4,823.3 L1753.7,824.1 L1755.0,825.0 L1756.2,826.0 L1757.3,827.0 L1758.3,828.0 L1759.3,829.1 L1760.3,830.3 L1761.2,831.6 L1762.0,833.0 L1762.8,834.2 L1763.5,834.9 L1764.1,835.4 L1764.6,835.8 L1765.1,836.2 L1765.5,836.9 L1765.9,838.0 L1766.3,839.7 L1766.6,842.0 L1766.9,845.3 L1767.2,849.5 L1767.5,855.0 L1767.8,861.8 L1768.0,870.0 L1768.1,879.2 L1768.2,889.4 L1768.3,900.3 L1768.4,911.7 L1768.5,923.4 L1768.5,935.3 L1768.6,947.0 L1768.7,958.6 L1768.8,969.6 L1769.0,980.0 L1769.2,990.2 L1769.5,1000.9 L1769.8,1011.8 L1770.1,1022.7 L1770.4,1033.6 L1770.7,1044.2 L1771.0,1054.5 L1771.3,1064.3 L1771.6,1073.4 L1771.8,1081.6 L1771.9,1088.9 L1772.0,1095.0 L1772.0,1099.9 L1772.0,1103.5 L1772.0,1106.2 L1772.0,1108.0 L1771.9,1109.1 L1771.8,1109.7 L1771.7,1109.9 L1771.4,1110.0 L1771.2,1110.1 L1770.9,1110.4 L1770.5,1110.9 L1770.0,1112.0 L1769.5,1113.4 L1768.9,1114.8 L1768.2,1116.3 L1767.4,1117.7 L1766.7,1119.1 L1765.8,1120.6 L1764.9,1122.0 L1764.0,1123.3 L1763.0,1124.6 L1762.0,1125.8 L1761.0,1126.9 L1760.0,1128.0 L1758.9,1129.0 L1757.8,1129.9 L1756.7,1130.7 L1755.5,1131.5 L1754.3,1132.2 L1753.0,1132.8 L1751.7,1133.5 L1750.4,1134.0 L1749.1,1134.6 L1747.7,1135.1 L1746.4,1135.6 L1745.0,1136.0 L1743.6,1136.4 L1742.2,1136.8 L1740.7,1137.2 L1739.3,1137.5 L1737.8,1137.8 L1736.2,1138.0 L1734.7,1138.2 L1733.2,1138.4 L1731.6,1138.5 L1730.1,1138.6 L1728.5,1138.6 L1727.0,1138.5 L1725.4,1138.4 L1723.8,1138.2 L1722.2,1137.9 L1720.6,1137.6 L1718.9,1137.3 L1717.2,1136.9 L1715.6,1136.4 L1714.0,1136.0 L1712.4,1135.5 L1710.9,1135.0 L1709.4,1134.5 L1708.0,1134.0 L1706.7,1133.4 L1705.4,1132.8 L1704.1,1132.0 L1703.0,1131.2 L1701.8,1130.3 L1700.7,1129.5 L1699.6,1128.7 L1698.5,1128.0 L1697.4,1127.4 L1696.3,1126.9 L1695.2,1126.6 L1694.0,1126.5 L1692.9,1126.6 L1691.8,1126.9 L1690.8,1127.4 L1689.8,1128.0 L1688.8,1128.7 L1687.8,1129.4 L1686.8,1130.3 L1685.6,1131.1 L1684.4,1131.9 L1683.1,1132.7 L1681.6,1133.4 L1680.0,1134.0 L1678.2,1134.6 L1676.2,1135.2 L1674.1,1135.8 L1671.8,1136.4 L1669.5,1137.0 L1667.1,1137.6 L1664.6,1138.2 L1662.2,1138.6 L1659.8,1139.0 L1657.4,1139.3 L1655.2,1139.5 L1653.0,1139.6 L1650.9,1139.5 L1648.8,1139.4 L1646.8,1139.2 L1644.7,1138.8 L1642.7,1138.4 L1640.7,1138.0 L1638.7,1137.4 L1636.9,1136.8 L1635.0,1136.2 L1633.3,1135.5 L1631.6,1134.8 L1630.0,1134.0 L1628.5,1133.2 L1627.1,1132.4 L1625.7,1131.5 L1624.4,1130.6 L1623.2,1129.6 L1622.0,1128.6 L1620.9,1127.5 L1619.8,1126.3 L1618.8,1125.1 L1617.8,1123.8 L1616.9,1122.5 L1616.0,1121.0 L1615.2,1119.7 L1614.4,1118.8 L1613.6,1118.2 L1613.0,1117.6 L1612.3,1116.9 L1611.8,1116.1 L1611.2,1114.8 L1610.7,1113.1 L1610.2,1110.7 L1609.8,1107.4 L1609.4,1103.3 L1609.0,1098.0 L1608.7,1091.5 L1608.4,1083.9 L1608.1,1075.2 L1607.9,1065.8 L1607.7,1055.7 L1607.6,1045.1 L1607.4,1034.1 L1607.3,1023.0 L1607.2,1011.9 L1607.2,1000.9 L1607.1,990.2Z M1629,862 Q1629,845 1646,845 L1733,845 Q1749,845 1749,862 L1751,1098 Q1751,1116 1734,1116 L1646,1116 Q1629,1116 1629,1098 Z"/>
<clipPath id="clipLoop"><path fill-rule="evenodd" clip-rule="evenodd" d="M1607.0,980.0 L1606.9,969.8 L1606.8,959.0 L1606.7,947.9 L1606.7,936.6 L1606.6,925.3 L1606.6,914.1 L1606.5,903.3 L1606.6,893.0 L1606.6,883.3 L1606.7,874.5 L1606.8,866.6 L1607.0,860.0 L1607.2,854.6 L1607.4,850.3 L1607.6,847.0 L1607.9,844.5 L1608.2,842.7 L1608.5,841.4 L1608.9,840.5 L1609.3,839.7 L1609.9,839.1 L1610.5,838.3 L1611.2,837.4 L1612.0,836.0 L1612.9,834.4 L1614.0,832.9 L1615.1,831.5 L1616.3,830.1 L1617.6,828.8 L1618.9,827.5 L1620.4,826.4 L1621.8,825.2 L1623.3,824.2 L1624.9,823.2 L1626.4,822.3 L1628.0,821.5 L1629.6,820.7 L1631.3,820.0 L1633.1,819.4 L1634.9,818.9 L1636.7,818.4 L1638.6,818.0 L1640.5,817.6 L1642.4,817.4 L1644.4,817.2 L1646.3,817.0 L1648.1,817.0 L1650.0,817.0 L1651.9,817.1 L1653.7,817.3 L1655.7,817.6 L1657.6,818.0 L1659.5,818.5 L1661.4,819.0 L1663.3,819.6 L1665.2,820.2 L1667.0,820.9 L1668.7,821.6 L1670.4,822.3 L1672.0,823.0 L1673.5,823.8 L1674.9,824.8 L1676.2,825.9 L1677.5,827.1 L1678.7,828.4 L1679.9,829.6 L1681.1,830.8 L1682.3,831.8 L1683.4,832.7 L1684.6,833.4 L1685.8,833.9 L1687.0,834.0 L1688.2,833.8 L1689.4,833.3 L1690.6,832.6 L1691.7,831.7 L1692.9,830.6 L1694.1,829.4 L1695.3,828.1 L1696.5,826.8 L1697.8,825.6 L1699.1,824.4 L1700.5,823.4 L1702.0,822.5 L1703.6,821.7 L1705.2,820.9 L1707.0,820.2 L1708.7,819.4 L1710.6,818.7 L1712.4,818.0 L1714.3,817.4 L1716.3,816.8 L1718.2,816.4 L1720.1,816.0 L1722.1,815.7 L1724.0,815.6 L1726.0,815.6 L1728.0,815.7 L1730.1,815.9 L1732.2,816.2 L1734.4,816.6 L1736.5,817.1 L1738.6,817.7 L1740.7,818.3 L1742.7,818.9 L1744.6,819.6 L1746.3,820.3 L1748.0,821.0 L1749.5,821.7 L1751.0,822.5 L1752.4,823.3 L1753.7,824.1 L1755.0,825.0 L1756.2,826.0 L1757.3,827.0 L1758.3,828.0 L1759.3,829.1 L1760.3,830.3 L1761.2,831.6 L1762.0,833.0 L1762.8,834.2 L1763.5,834.9 L1764.1,835.4 L1764.6,835.8 L1765.1,836.2 L1765.5,836.9 L1765.9,838.0 L1766.3,839.7 L1766.6,842.0 L1766.9,845.3 L1767.2,849.5 L1767.5,855.0 L1767.8,861.8 L1768.0,870.0 L1768.1,879.2 L1768.2,889.4 L1768.3,900.3 L1768.4,911.7 L1768.5,923.4 L1768.5,935.3 L1768.6,947.0 L1768.7,958.6 L1768.8,969.6 L1769.0,980.0 L1769.2,990.2 L1769.5,1000.9 L1769.8,1011.8 L1770.1,1022.7 L1770.4,1033.6 L1770.7,1044.2 L1771.0,1054.5 L1771.3,1064.3 L1771.6,1073.4 L1771.8,1081.6 L1771.9,1088.9 L1772.0,1095.0 L1772.0,1099.9 L1772.0,1103.5 L1772.0,1106.2 L1772.0,1108.0 L1771.9,1109.1 L1771.8,1109.7 L1771.7,1109.9 L1771.4,1110.0 L1771.2,1110.1 L1770.9,1110.4 L1770.5,1110.9 L1770.0,1112.0 L1769.5,1113.4 L1768.9,1114.8 L1768.2,1116.3 L1767.4,1117.7 L1766.7,1119.1 L1765.8,1120.6 L1764.9,1122.0 L1764.0,1123.3 L1763.0,1124.6 L1762.0,1125.8 L1761.0,1126.9 L1760.0,1128.0 L1758.9,1129.0 L1757.8,1129.9 L1756.7,1130.7 L1755.5,1131.5 L1754.3,1132.2 L1753.0,1132.8 L1751.7,1133.5 L1750.4,1134.0 L1749.1,1134.6 L1747.7,1135.1 L1746.4,1135.6 L1745.0,1136.0 L1743.6,1136.4 L1742.2,1136.8 L1740.7,1137.2 L1739.3,1137.5 L1737.8,1137.8 L1736.2,1138.0 L1734.7,1138.2 L1733.2,1138.4 L1731.6,1138.5 L1730.1,1138.6 L1728.5,1138.6 L1727.0,1138.5 L1725.4,1138.4 L1723.8,1138.2 L1722.2,1137.9 L1720.6,1137.6 L1718.9,1137.3 L1717.2,1136.9 L1715.6,1136.4 L1714.0,1136.0 L1712.4,1135.5 L1710.9,1135.0 L1709.4,1134.5 L1708.0,1134.0 L1706.7,1133.4 L1705.4,1132.8 L1704.1,1132.0 L1703.0,1131.2 L1701.8,1130.3 L1700.7,1129.5 L1699.6,1128.7 L1698.5,1128.0 L1697.4,1127.4 L1696.3,1126.9 L1695.2,1126.6 L1694.0,1126.5 L1692.9,1126.6 L1691.8,1126.9 L1690.8,1127.4 L1689.8,1128.0 L1688.8,1128.7 L1687.8,1129.4 L1686.8,1130.3 L1685.6,1131.1 L1684.4,1131.9 L1683.1,1132.7 L1681.6,1133.4 L1680.0,1134.0 L1678.2,1134.6 L1676.2,1135.2 L1674.1,1135.8 L1671.8,1136.4 L1669.5,1137.0 L1667.1,1137.6 L1664.6,1138.2 L1662.2,1138.6 L1659.8,1139.0 L1657.4,1139.3 L1655.2,1139.5 L1653.0,1139.6 L1650.9,1139.5 L1648.8,1139.4 L1646.8,1139.2 L1644.7,1138.8 L1642.7,1138.4 L1640.7,1138.0 L1638.7,1137.4 L1636.9,1136.8 L1635.0,1136.2 L1633.3,1135.5 L1631.6,1134.8 L1630.0,1134.0 L1628.5,1133.2 L1627.1,1132.4 L1625.7,1131.5 L1624.4,1130.6 L1623.2,1129.6 L1622.0,1128.6 L1620.9,1127.5 L1619.8,1126.3 L1618.8,1125.1 L1617.8,1123.8 L1616.9,1122.5 L1616.0,1121.0 L1615.2,1119.7 L1614.4,1118.8 L1613.6,1118.2 L1613.0,1117.6 L1612.3,1116.9 L1611.8,1116.1 L1611.2,1114.8 L1610.7,1113.1 L1610.2,1110.7 L1609.8,1107.4 L1609.4,1103.3 L1609.0,1098.0 L1608.7,1091.5 L1608.4,1083.9 L1608.1,1075.2 L1607.9,1065.8 L1607.7,1055.7 L1607.6,1045.1 L1607.4,1034.1 L1607.3,1023.0 L1607.2,1011.9 L1607.2,1000.9 L1607.1,990.2Z M1629,862 Q1629,845 1646,845 L1733,845 Q1749,845 1749,862 L1751,1098 Q1751,1116 1734,1116 L1646,1116 Q1629,1116 1629,1098 Z"/></clipPath>
<path fill="none" stroke="#38393b" stroke-width="2.6" stroke-linejoin="round" clip-path="url(#clipLoop)" d="M1615.5,979.9 L1615.4,969.7 L1615.3,958.9 L1615.2,947.8 L1615.2,936.5 L1615.1,925.2 L1615.1,914.1 L1615.0,903.3 L1615.1,893.0 L1615.1,883.4 L1615.2,874.6 L1615.3,866.8 L1615.5,860.3 L1615.7,855.0 L1615.9,850.8 L1616.1,847.7 L1616.3,845.6 L1616.5,844.3 L1616.6,844.0 L1616.5,844.3 L1616.3,844.6 L1616.5,844.4 L1617.2,843.5 L1618.3,842.0 L1619.3,840.3 L1620.1,839.0 L1620.8,837.9 L1621.6,836.9 L1622.5,835.9 L1623.5,834.9 L1624.5,833.9 L1625.6,833.0 L1626.8,832.1 L1628.0,831.3 L1629.3,830.5 L1630.5,829.8 L1631.8,829.1 L1633.0,828.5 L1634.3,828.0 L1635.7,827.5 L1637.2,827.0 L1638.7,826.6 L1640.3,826.3 L1641.9,826.0 L1643.5,825.8 L1645.1,825.6 L1646.7,825.5 L1648.2,825.5 L1649.7,825.5 L1651.1,825.6 L1652.6,825.8 L1654.1,826.0 L1655.7,826.3 L1657.4,826.7 L1659.1,827.2 L1660.7,827.7 L1662.4,828.3 L1664.0,828.8 L1665.5,829.5 L1667.0,830.1 L1668.2,830.6 L1669.0,831.0 L1669.7,831.5 L1670.6,832.3 L1671.6,833.2 L1672.7,834.3 L1673.9,835.6 L1675.2,836.9 L1676.8,838.3 L1678.6,839.7 L1680.9,841.1 L1683.8,842.1 L1687.1,842.5 L1690.5,842.0 L1693.3,840.9 L1695.5,839.5 L1697.4,838.0 L1698.9,836.6 L1700.2,835.2 L1701.4,834.0 L1702.5,832.8 L1703.5,831.8 L1704.4,831.0 L1705.2,830.5 L1706.0,830.0 L1707.3,829.4 L1708.8,828.7 L1710.4,827.9 L1712.0,827.3 L1713.6,826.6 L1715.2,826.0 L1716.8,825.5 L1718.4,825.0 L1720.0,824.7 L1721.5,824.4 L1722.9,824.2 L1724.3,824.1 L1725.7,824.1 L1727.3,824.2 L1729.0,824.4 L1730.8,824.6 L1732.7,825.0 L1734.5,825.4 L1736.4,825.9 L1738.2,826.4 L1739.9,826.9 L1741.6,827.5 L1743.1,828.1 L1744.5,828.7 L1745.7,829.3 L1746.9,830.0 L1748.0,830.6 L1749.0,831.2 L1749.9,831.8 L1750.7,832.5 L1751.4,833.1 L1752.1,833.8 L1752.8,834.6 L1753.4,835.4 L1754.0,836.3 L1754.8,837.6 L1756.0,839.3 L1757.6,841.1 L1758.9,842.1 L1759.2,842.3 L1758.4,841.5 L1757.8,840.5 L1757.7,840.3 L1757.9,841.1 L1758.2,843.0 L1758.4,845.9 L1758.7,850.0 L1759.0,855.4 L1759.3,862.1 L1759.5,870.2 L1759.6,879.4 L1759.7,889.5 L1759.8,900.4 L1759.9,911.7 L1760.0,923.5 L1760.0,935.3 L1760.1,947.1 L1760.2,958.6 L1760.3,969.7 L1760.5,980.2 L1760.7,990.4 L1761.0,1001.1 L1761.3,1012.0 L1761.6,1023.0 L1761.9,1033.8 L1762.2,1044.5 L1762.5,1054.8 L1762.8,1064.5 L1763.1,1073.6 L1763.3,1081.8 L1763.4,1089.0 L1763.5,1095.1 L1763.5,1099.9 L1763.5,1103.5 L1763.5,1106.1 L1763.5,1107.6 L1763.5,1108.2 L1763.7,1107.1 L1765.8,1103.8 L1768.6,1102.0 L1767.1,1102.7 L1764.5,1104.7 L1762.9,1107.0 L1762.1,1108.8 L1761.6,1110.2 L1761.1,1111.3 L1760.5,1112.5 L1759.9,1113.7 L1759.3,1114.9 L1758.6,1116.1 L1757.8,1117.3 L1757.1,1118.3 L1756.3,1119.4 L1755.6,1120.3 L1754.8,1121.1 L1754.1,1121.9 L1753.4,1122.5 L1752.7,1123.1 L1751.9,1123.7 L1751.0,1124.2 L1750.1,1124.8 L1749.2,1125.3 L1748.2,1125.7 L1747.1,1126.2 L1746.0,1126.7 L1744.8,1127.1 L1743.7,1127.5 L1742.4,1127.9 L1741.2,1128.3 L1740.0,1128.6 L1738.8,1128.9 L1737.5,1129.2 L1736.3,1129.4 L1735.0,1129.6 L1733.7,1129.8 L1732.5,1129.9 L1731.2,1130.0 L1729.9,1130.1 L1728.7,1130.1 L1727.5,1130.0 L1726.3,1129.9 L1725.0,1129.8 L1723.6,1129.6 L1722.2,1129.3 L1720.8,1129.0 L1719.3,1128.6 L1717.9,1128.2 L1716.4,1127.8 L1715.0,1127.4 L1713.6,1126.9 L1712.2,1126.5 L1711.1,1126.1 L1710.3,1125.8 L1709.6,1125.4 L1708.8,1124.9 L1707.9,1124.2 L1706.8,1123.5 L1705.7,1122.6 L1704.4,1121.7 L1702.9,1120.7 L1701.1,1119.8 L1699.1,1118.9 L1696.7,1118.2 L1694.0,1118.0 L1691.3,1118.2 L1688.9,1118.9 L1686.8,1119.8 L1685.2,1120.8 L1683.8,1121.8 L1682.6,1122.7 L1681.6,1123.5 L1680.7,1124.1 L1679.9,1124.7 L1679.1,1125.2 L1678.3,1125.6 L1677.2,1126.0 L1675.7,1126.4 L1673.8,1127.0 L1671.7,1127.6 L1669.6,1128.2 L1667.4,1128.8 L1665.1,1129.3 L1662.9,1129.8 L1660.7,1130.3 L1658.5,1130.6 L1656.5,1130.9 L1654.6,1131.0 L1653.0,1131.1 L1651.3,1131.1 L1649.6,1130.9 L1647.9,1130.7 L1646.2,1130.5 L1644.5,1130.1 L1642.8,1129.7 L1641.2,1129.3 L1639.5,1128.8 L1638.0,1128.2 L1636.5,1127.6 L1635.1,1127.0 L1633.8,1126.4 L1632.6,1125.8 L1631.5,1125.1 L1630.5,1124.5 L1629.5,1123.8 L1628.6,1123.1 L1627.8,1122.3 L1627.0,1121.6 L1626.2,1120.7 L1625.5,1119.9 L1624.7,1118.9 L1624.0,1117.9 L1623.2,1116.4 L1621.9,1114.6 L1620.5,1112.9 L1619.3,1111.8 L1618.8,1111.4 L1619.0,1111.7 L1619.3,1112.1 L1619.2,1112.0 L1619.0,1111.1 L1618.6,1109.3 L1618.2,1106.5 L1617.9,1102.6 L1617.5,1097.5 L1617.1,1091.1 L1616.8,1083.6 L1616.6,1075.0 L1616.4,1065.6 L1616.2,1055.5 L1616.1,1045.0 L1615.9,1034.0 L1615.8,1022.9 L1615.7,1011.8 L1615.7,1000.8 L1615.6,990.1Z"/>
</g>
</g>
</svg>
</body>
</html>
